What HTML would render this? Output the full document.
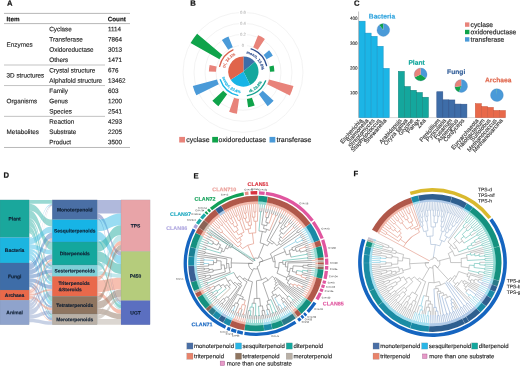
<!DOCTYPE html>
<html><head><meta charset="utf-8"><title>Figure</title>
<style>
html,body{margin:0;padding:0;background:#fff;}
body{width:520px;height:367px;overflow:hidden;}
svg{display:block;font-family:'Liberation Sans', Arial, sans-serif;text-rendering:geometricPrecision;}
text{paint-order:stroke fill;stroke-linejoin:round;}
</style></head>
<body>
<svg width="520" height="367" viewBox="0 0 520 367">
<rect width="520" height="367" fill="#fff"/>
<g id="panelA">
<text x="6.90" y="5.80" font-size="7.7" fill="#111" stroke="#111" stroke-width="0.2002" font-weight="bold" text-anchor="start" transform="rotate(0.03 6.9 5.8)" >A</text>
<line x1="4" y1="13.4" x2="130" y2="13.4" stroke="#9a9a9a" stroke-width="0.7"/>
<line x1="4" y1="23.6" x2="130" y2="23.6" stroke="#9a9a9a" stroke-width="0.7"/>
<text x="6.60" y="21.20" font-size="6.3" fill="#111" stroke="#111" stroke-width="0.1638" font-weight="bold" text-anchor="start" transform="rotate(0.03 6.6 21.2)" >Item</text>
<text x="107.70" y="21.20" font-size="6.3" fill="#111" stroke="#111" stroke-width="0.1638" font-weight="bold" text-anchor="start" transform="rotate(0.03 107.7 21.2)" >Count</text>
<text x="49.30" y="31.30" font-size="6.33" fill="#222" stroke="#222" stroke-width="0.13926" font-weight="normal" text-anchor="start" transform="rotate(0.03 49.3 31.3)" >Cyclase</text>
<text x="107.90" y="31.30" font-size="6.33" fill="#222" stroke="#222" stroke-width="0.13926" font-weight="normal" text-anchor="start" transform="rotate(0.03 107.9 31.3)" >1114</text>
<text x="49.30" y="41.57" font-size="6.33" fill="#222" stroke="#222" stroke-width="0.13926" font-weight="normal" text-anchor="start" transform="rotate(0.03 49.3 41.6)" >Transferase</text>
<text x="107.90" y="41.57" font-size="6.33" fill="#222" stroke="#222" stroke-width="0.13926" font-weight="normal" text-anchor="start" transform="rotate(0.03 107.9 41.6)" >7864</text>
<text x="49.30" y="51.84" font-size="6.33" fill="#222" stroke="#222" stroke-width="0.13926" font-weight="normal" text-anchor="start" transform="rotate(0.03 49.3 51.8)" >Oxidoreductase</text>
<text x="107.90" y="51.84" font-size="6.33" fill="#222" stroke="#222" stroke-width="0.13926" font-weight="normal" text-anchor="start" transform="rotate(0.03 107.9 51.8)" >3013</text>
<text x="49.30" y="62.11" font-size="6.33" fill="#222" stroke="#222" stroke-width="0.13926" font-weight="normal" text-anchor="start" transform="rotate(0.03 49.3 62.1)" >Others</text>
<text x="107.90" y="62.11" font-size="6.33" fill="#222" stroke="#222" stroke-width="0.13926" font-weight="normal" text-anchor="start" transform="rotate(0.03 107.9 62.1)" >1471</text>
<text x="49.30" y="72.38" font-size="6.33" fill="#222" stroke="#222" stroke-width="0.13926" font-weight="normal" text-anchor="start" transform="rotate(0.03 49.3 72.4)" >Crystal structure</text>
<text x="107.90" y="72.38" font-size="6.33" fill="#222" stroke="#222" stroke-width="0.13926" font-weight="normal" text-anchor="start" transform="rotate(0.03 107.9 72.4)" >676</text>
<text x="49.30" y="82.65" font-size="6.33" fill="#222" stroke="#222" stroke-width="0.13926" font-weight="normal" text-anchor="start" transform="rotate(0.03 49.3 82.6)" >Alphafold structure</text>
<text x="107.90" y="82.65" font-size="6.33" fill="#222" stroke="#222" stroke-width="0.13926" font-weight="normal" text-anchor="start" transform="rotate(0.03 107.9 82.6)" >13462</text>
<text x="49.30" y="92.92" font-size="6.33" fill="#222" stroke="#222" stroke-width="0.13926" font-weight="normal" text-anchor="start" transform="rotate(0.03 49.3 92.9)" >Family</text>
<text x="107.90" y="92.92" font-size="6.33" fill="#222" stroke="#222" stroke-width="0.13926" font-weight="normal" text-anchor="start" transform="rotate(0.03 107.9 92.9)" >603</text>
<text x="49.30" y="103.19" font-size="6.33" fill="#222" stroke="#222" stroke-width="0.13926" font-weight="normal" text-anchor="start" transform="rotate(0.03 49.3 103.2)" >Genus</text>
<text x="107.90" y="103.19" font-size="6.33" fill="#222" stroke="#222" stroke-width="0.13926" font-weight="normal" text-anchor="start" transform="rotate(0.03 107.9 103.2)" >1200</text>
<text x="49.30" y="113.46" font-size="6.33" fill="#222" stroke="#222" stroke-width="0.13926" font-weight="normal" text-anchor="start" transform="rotate(0.03 49.3 113.5)" >Species</text>
<text x="107.90" y="113.46" font-size="6.33" fill="#222" stroke="#222" stroke-width="0.13926" font-weight="normal" text-anchor="start" transform="rotate(0.03 107.9 113.5)" >2541</text>
<text x="49.30" y="123.73" font-size="6.33" fill="#222" stroke="#222" stroke-width="0.13926" font-weight="normal" text-anchor="start" transform="rotate(0.03 49.3 123.7)" >Reaction</text>
<text x="107.90" y="123.73" font-size="6.33" fill="#222" stroke="#222" stroke-width="0.13926" font-weight="normal" text-anchor="start" transform="rotate(0.03 107.9 123.7)" >4293</text>
<text x="49.30" y="134.00" font-size="6.33" fill="#222" stroke="#222" stroke-width="0.13926" font-weight="normal" text-anchor="start" transform="rotate(0.03 49.3 134.0)" >Substrate</text>
<text x="107.90" y="134.00" font-size="6.33" fill="#222" stroke="#222" stroke-width="0.13926" font-weight="normal" text-anchor="start" transform="rotate(0.03 107.9 134.0)" >2205</text>
<text x="49.30" y="144.27" font-size="6.33" fill="#222" stroke="#222" stroke-width="0.13926" font-weight="normal" text-anchor="start" transform="rotate(0.03 49.3 144.3)" >Product</text>
<text x="107.90" y="144.27" font-size="6.33" fill="#222" stroke="#222" stroke-width="0.13926" font-weight="normal" text-anchor="start" transform="rotate(0.03 107.9 144.3)" >3500</text>
<text x="6.60" y="46.70" font-size="6.33" fill="#222" stroke="#222" stroke-width="0.13926" font-weight="normal" text-anchor="start" transform="rotate(0.03 6.6 46.7)" >Enzymes</text>
<text x="6.60" y="77.52" font-size="6.33" fill="#222" stroke="#222" stroke-width="0.13926" font-weight="normal" text-anchor="start" transform="rotate(0.03 6.6 77.5)" >3D structures</text>
<text x="6.60" y="103.19" font-size="6.33" fill="#222" stroke="#222" stroke-width="0.13926" font-weight="normal" text-anchor="start" transform="rotate(0.03 6.6 103.2)" >Organisms</text>
<text x="6.60" y="134.00" font-size="6.33" fill="#222" stroke="#222" stroke-width="0.13926" font-weight="normal" text-anchor="start" transform="rotate(0.03 6.6 134.0)" >Metabolites</text>
<line x1="4" y1="65.01" x2="105" y2="65.01" stroke="#9a9a9a" stroke-width="0.6"/>
<line x1="4" y1="85.55" x2="105" y2="85.55" stroke="#9a9a9a" stroke-width="0.6"/>
<line x1="4" y1="116.36" x2="105" y2="116.36" stroke="#9a9a9a" stroke-width="0.6"/>
<line x1="4" y1="147.47" x2="130" y2="147.47" stroke="#9a9a9a" stroke-width="0.7"/>
</g>
<g id="panelB">
<text x="190.30" y="5.70" font-size="7.7" fill="#111" stroke="#111" stroke-width="0.2002" font-weight="bold" text-anchor="start" transform="rotate(0.03 190.3 5.7)" >B</text>
<circle cx="243.0" cy="72.3" r="27" fill="none" stroke="#ebebeb" stroke-width="0.6"/>
<circle cx="243.0" cy="72.3" r="38" fill="none" stroke="#ebebeb" stroke-width="0.6"/>
<circle cx="243.0" cy="72.3" r="49" fill="none" stroke="#ebebeb" stroke-width="0.6"/>
<circle cx="243.0" cy="72.3" r="60" fill="none" stroke="#ebebeb" stroke-width="0.6"/>
<rect x="239.0" y="43.099999999999994" width="8" height="4.4" fill="#fff"/>
<text x="243.00" y="46.80" font-size="4.2" fill="#b8b8b8" stroke="#b8b8b8" stroke-width="0.0924" font-weight="normal" text-anchor="middle" transform="rotate(0.03 243.0 46.8)" >0</text>
<rect x="239.0" y="32.099999999999994" width="8" height="4.4" fill="#fff"/>
<text x="243.00" y="35.80" font-size="4.2" fill="#b8b8b8" stroke="#b8b8b8" stroke-width="0.0924" font-weight="normal" text-anchor="middle" transform="rotate(0.03 243.0 35.8)" >0.2</text>
<rect x="239.0" y="21.099999999999998" width="8" height="4.4" fill="#fff"/>
<text x="243.00" y="24.80" font-size="4.2" fill="#b8b8b8" stroke="#b8b8b8" stroke-width="0.0924" font-weight="normal" text-anchor="middle" transform="rotate(0.03 243.0 24.8)" >0.4</text>
<rect x="239.0" y="10.099999999999998" width="8" height="4.4" fill="#fff"/>
<text x="243.00" y="13.80" font-size="4.2" fill="#b8b8b8" stroke="#b8b8b8" stroke-width="0.0924" font-weight="normal" text-anchor="middle" transform="rotate(0.03 243.0 13.8)" >0.6</text>
<path d="M258.08,35.33A39.92,39.92 0 0 1 264.86,38.89L257.78,49.71A27.00,27.00 0 0 0 253.20,47.30Z" fill="#e8837a" />
<path d="M269.12,50.30A34.15,34.15 0 0 1 272.83,55.68L266.59,59.16A27.00,27.00 0 0 0 263.65,54.90Z" fill="#4a9ad8" />
<path d="M273.66,65.54A31.40,31.40 0 0 1 274.39,71.52L269.99,71.63A27.00,27.00 0 0 0 269.37,66.49Z" fill="#0fa34a" />
<path d="M293.45,86.07A52.30,52.30 0 0 1 289.90,95.45L267.21,84.25A27.00,27.00 0 0 0 269.05,79.41Z" fill="#e8837a" />
<path d="M273.63,100.82A41.85,41.85 0 0 1 267.62,106.14L258.88,94.13A27.00,27.00 0 0 0 262.76,90.70Z" fill="#4a9ad8" />
<path d="M254.68,105.56A35.25,35.25 0 0 1 248.12,107.18L246.92,99.01A27.00,27.00 0 0 0 251.94,97.78Z" fill="#0fa34a" />
<path d="M236.93,113.71A41.85,41.85 0 0 1 229.14,111.79L234.06,97.78A27.00,27.00 0 0 0 239.08,99.01Z" fill="#e8837a" />
<path d="M218.38,106.14A41.85,41.85 0 0 1 212.37,100.82L223.24,90.70A27.00,27.00 0 0 0 227.12,94.13Z" fill="#0fa34a" />
<path d="M196.35,95.33A52.03,52.03 0 0 1 192.81,86.00L216.95,79.41A27.00,27.00 0 0 0 218.79,84.25Z" fill="#4a9ad8" />
<path d="M208.86,71.45A34.15,34.15 0 0 1 209.65,64.95L216.63,66.49A27.00,27.00 0 0 0 216.01,71.63Z" fill="#e8837a" />
<path d="M190.58,43.11A60.00,60.00 0 0 1 197.12,33.64L222.35,54.90A27.00,27.00 0 0 0 219.41,59.16Z" fill="#0fa34a" />
<path d="M221.90,40.04A38.55,38.55 0 0 1 228.44,36.61L232.80,47.30A27.00,27.00 0 0 0 228.22,49.71Z" fill="#4a9ad8" />
<path d="M251.08,48.92A24.20,24.20 0 0 1 266.58,65.54" fill="none" stroke="#2f4f8f" stroke-width="1.35" stroke-linecap="round"/>
<path id="bg0" d="M246.71,53.74A18.40,18.40 0 0 1 261.46,69.56" fill="none"/>
<text font-size="3.9" font-weight="bold" fill="#2f4f8f" stroke="#2f4f8f" stroke-width="0.12" text-anchor="middle"><textPath href="#bg0" startOffset="50%">mono, 13.8%</textPath></text>
<path d="M265.64,80.87A24.20,24.20 0 0 1 247.40,95.63" fill="none" stroke="#14a08f" stroke-width="1.35" stroke-linecap="round"/>
<path id="bg1" d="M243.95,93.39A21.60,21.60 0 0 0 264.16,77.03" fill="none"/>
<text font-size="3.9" font-weight="bold" fill="#14a08f" stroke="#14a08f" stroke-width="0.12" text-anchor="middle"><textPath href="#bg1" startOffset="50%">di, 28.8%</textPath></text>
<path d="M237.76,95.38A24.20,24.20 0 0 1 220.32,79.68" fill="none" stroke="#17b4e6" stroke-width="1.35" stroke-linecap="round"/>
<path id="bg2" d="M222.00,75.92A21.60,21.60 0 0 0 241.32,93.32" fill="none"/>
<text font-size="3.9" font-weight="bold" fill="#17b4e6" stroke="#17b4e6" stroke-width="0.12" text-anchor="middle"><textPath href="#bg2" startOffset="50%">sesqui, 23.4%</textPath></text>
<path d="M219.62,66.36A24.20,24.20 0 0 1 232.97,49.87" fill="none" stroke="#d9634f" stroke-width="1.35" stroke-linecap="round"/>
<path id="bg3" d="M224.87,70.20A18.40,18.40 0 0 1 237.82,54.20" fill="none"/>
<text font-size="3.9" font-weight="bold" fill="#d9634f" stroke="#d9634f" stroke-width="0.12" text-anchor="middle"><textPath href="#bg3" startOffset="50%">tri, 34.1%</textPath></text>
<path d="M243.40,71.50L243.40,56.40A15.10,15.10 0 0 1 254.90,61.72Z" fill="#3e6da8" />
<path d="M243.40,71.50L254.90,61.72A15.10,15.10 0 0 1 250.21,84.98Z" fill="#14a79d" />
<path d="M243.40,71.50L250.21,84.98A15.10,15.10 0 0 1 230.68,79.64Z" fill="#17b4e6" />
<path d="M243.40,71.50L230.68,79.64A15.10,15.10 0 0 1 243.40,56.40Z" fill="#e0644b" />
<rect x="179.2" y="136.9" width="5.8" height="5.6" fill="#e8837a"/>
<text x="186.30" y="142.00" font-size="7.0" fill="#222" stroke="#222" stroke-width="0.154" font-weight="normal" text-anchor="start" transform="rotate(0.03 186.3 142.0)" >cyclase</text>
<rect x="212.2" y="136.9" width="5.8" height="5.6" fill="#0fa34a"/>
<text x="218.60" y="142.00" font-size="7.0" fill="#222" stroke="#222" stroke-width="0.154" font-weight="normal" text-anchor="start" transform="rotate(0.03 218.6 142.0)" >oxidoreductase</text>
<rect x="269.5" y="136.9" width="5.8" height="5.6" fill="#4a9ad8"/>
<text x="276.50" y="142.00" font-size="7.0" fill="#222" stroke="#222" stroke-width="0.154" font-weight="normal" text-anchor="start" transform="rotate(0.03 276.5 142.0)" >transferase</text>
</g>
<g id="panelC">
<text x="353.90" y="5.80" font-size="7.7" fill="#111" stroke="#111" stroke-width="0.2002" font-weight="bold" text-anchor="start" transform="rotate(0.03 353.9 5.8)" >C</text>
<line x1="358.6" y1="117.89999999999999" x2="358.6" y2="11.5" stroke="#777" stroke-width="0.45"/>
<line x1="359.3" y1="117.6" x2="506" y2="117.6" stroke="#b4b4b4" stroke-width="0.5"/>
<text x="357.50" y="94.35" font-size="4.5" fill="#222" stroke="#222" stroke-width="0.09899999999999999" font-weight="normal" text-anchor="end" transform="rotate(0.03 357.5 94.3)" >100</text>
<text x="357.50" y="69.50" font-size="4.5" fill="#222" stroke="#222" stroke-width="0.09899999999999999" font-weight="normal" text-anchor="end" transform="rotate(0.03 357.5 69.5)" >200</text>
<text x="357.50" y="44.65" font-size="4.5" fill="#222" stroke="#222" stroke-width="0.09899999999999999" font-weight="normal" text-anchor="end" transform="rotate(0.03 357.5 44.6)" >300</text>
<text x="357.50" y="19.80" font-size="4.5" fill="#222" stroke="#222" stroke-width="0.09899999999999999" font-weight="normal" text-anchor="end" transform="rotate(0.03 357.5 19.8)" >400</text>
<rect x="359.10" y="21.18" width="6.02" height="96.42" fill="#1cb5e6" stroke="#1592c4" stroke-width="0.5"/>
<rect x="365.12" y="33.11" width="6.02" height="84.49" fill="#1cb5e6" stroke="#1592c4" stroke-width="0.5"/>
<rect x="371.14" y="36.34" width="6.02" height="81.26" fill="#1cb5e6" stroke="#1592c4" stroke-width="0.5"/>
<rect x="377.16" y="46.28" width="6.02" height="71.32" fill="#1cb5e6" stroke="#1592c4" stroke-width="0.5"/>
<rect x="383.18" y="68.40" width="6.02" height="49.20" fill="#1cb5e6" stroke="#1592c4" stroke-width="0.5"/>
<text transform="translate(361.61,119.80) rotate(-49)" font-size="5.95" fill="#3a3a3a" stroke="#3a3a3a" stroke-width="0.15" text-anchor="end" dominant-baseline="middle">Escherichia</text>
<text transform="translate(367.63,119.80) rotate(-49)" font-size="5.95" fill="#3a3a3a" stroke="#3a3a3a" stroke-width="0.15" text-anchor="end" dominant-baseline="middle">Salmonella</text>
<text transform="translate(373.65,119.80) rotate(-49)" font-size="5.95" fill="#3a3a3a" stroke="#3a3a3a" stroke-width="0.15" text-anchor="end" dominant-baseline="middle">Streptomyces</text>
<text transform="translate(379.67,119.80) rotate(-49)" font-size="5.95" fill="#3a3a3a" stroke="#3a3a3a" stroke-width="0.15" text-anchor="end" dominant-baseline="middle">Staphylococcus</text>
<text transform="translate(385.69,119.80) rotate(-49)" font-size="5.95" fill="#3a3a3a" stroke="#3a3a3a" stroke-width="0.15" text-anchor="end" dominant-baseline="middle">Shewanella</text>
<text x="382.00" y="18.40" font-size="6.7" fill="#33a5de" stroke="#33a5de" stroke-width="0.1742" font-weight="bold" text-anchor="middle" transform="rotate(0.03 382.0 18.4)" >Bacteria</text>
<path d="M383.30,30.00L379.19,25.10A6.40,6.40 0 0 1 383.30,23.60Z" fill="#0fa34a" />
<path d="M383.30,30.00L383.30,23.60A6.40,6.40 0 1 1 379.19,25.10Z" fill="#4a9ad8" />
<circle cx="383.3" cy="30" r="6.4" fill="none" stroke="#3a78b8" stroke-opacity="0.6" stroke-width="0.4"/>
<rect x="398.30" y="71.38" width="6.02" height="46.22" fill="#14a79d" stroke="#0f8078" stroke-width="0.5"/>
<rect x="404.32" y="86.54" width="6.02" height="31.06" fill="#14a79d" stroke="#0f8078" stroke-width="0.5"/>
<rect x="410.34" y="90.26" width="6.02" height="27.34" fill="#14a79d" stroke="#0f8078" stroke-width="0.5"/>
<rect x="416.36" y="92.50" width="6.02" height="25.10" fill="#14a79d" stroke="#0f8078" stroke-width="0.5"/>
<rect x="422.38" y="97.22" width="6.02" height="20.38" fill="#14a79d" stroke="#0f8078" stroke-width="0.5"/>
<text transform="translate(400.81,119.80) rotate(-49)" font-size="5.95" fill="#3a3a3a" stroke="#3a3a3a" stroke-width="0.15" text-anchor="end" dominant-baseline="middle">Arabidopsis</text>
<text transform="translate(406.83,119.80) rotate(-49)" font-size="5.95" fill="#3a3a3a" stroke="#3a3a3a" stroke-width="0.15" text-anchor="end" dominant-baseline="middle">Oryza sativa</text>
<text transform="translate(412.85,119.80) rotate(-49)" font-size="5.95" fill="#3a3a3a" stroke="#3a3a3a" stroke-width="0.15" text-anchor="end" dominant-baseline="middle">Glycine</text>
<text transform="translate(418.87,119.80) rotate(-49)" font-size="5.95" fill="#3a3a3a" stroke="#3a3a3a" stroke-width="0.15" text-anchor="end" dominant-baseline="middle">Panax</text>
<text transform="translate(424.89,119.80) rotate(-49)" font-size="5.95" fill="#3a3a3a" stroke="#3a3a3a" stroke-width="0.15" text-anchor="end" dominant-baseline="middle">Zea</text>
<text x="416.60" y="64.70" font-size="6.7" fill="#14a79d" stroke="#14a79d" stroke-width="0.1742" font-weight="bold" text-anchor="middle" transform="rotate(0.03 416.6 64.7)" >Plant</text>
<path d="M420.60,74.50L420.60,68.10A6.40,6.40 0 0 1 425.84,78.17Z" fill="#4a9ad8" />
<path d="M420.60,74.50L425.84,78.17A6.40,6.40 0 0 1 414.80,77.20Z" fill="#0fa34a" />
<path d="M420.60,74.50L414.80,77.20A6.40,6.40 0 0 1 420.60,68.10Z" fill="#e8837a" />
<circle cx="420.6" cy="74.5" r="6.4" fill="none" stroke="#3a78b8" stroke-opacity="0.6" stroke-width="0.4"/>
<rect x="436.80" y="91.76" width="6.02" height="25.84" fill="#3e6da8" stroke="#2c5088" stroke-width="0.5"/>
<rect x="442.82" y="99.83" width="6.02" height="17.77" fill="#3e6da8" stroke="#2c5088" stroke-width="0.5"/>
<rect x="448.84" y="99.96" width="6.02" height="17.64" fill="#3e6da8" stroke="#2c5088" stroke-width="0.5"/>
<rect x="454.86" y="104.06" width="6.02" height="13.54" fill="#3e6da8" stroke="#2c5088" stroke-width="0.5"/>
<rect x="460.88" y="104.18" width="6.02" height="13.42" fill="#3e6da8" stroke="#2c5088" stroke-width="0.5"/>
<text transform="translate(439.31,119.80) rotate(-49)" font-size="5.95" fill="#3a3a3a" stroke="#3a3a3a" stroke-width="0.15" text-anchor="end" dominant-baseline="middle">Penicillium</text>
<text transform="translate(445.33,119.80) rotate(-49)" font-size="5.95" fill="#3a3a3a" stroke="#3a3a3a" stroke-width="0.15" text-anchor="end" dominant-baseline="middle">Pyricularia</text>
<text transform="translate(451.35,119.80) rotate(-49)" font-size="5.95" fill="#3a3a3a" stroke="#3a3a3a" stroke-width="0.15" text-anchor="end" dominant-baseline="middle">Fusarium</text>
<text transform="translate(457.37,119.80) rotate(-49)" font-size="5.95" fill="#3a3a3a" stroke="#3a3a3a" stroke-width="0.15" text-anchor="end" dominant-baseline="middle">Aspergillus</text>
<text transform="translate(463.39,119.80) rotate(-49)" font-size="5.95" fill="#3a3a3a" stroke="#3a3a3a" stroke-width="0.15" text-anchor="end" dominant-baseline="middle">Cordyceps</text>
<text x="456.20" y="74.00" font-size="6.7" fill="#35609a" stroke="#35609a" stroke-width="0.1742" font-weight="bold" text-anchor="middle" transform="rotate(0.03 456.2 74.0)" >Fungi</text>
<path d="M461.20,86.00L461.20,79.60A6.40,6.40 0 1 1 459.01,92.01Z" fill="#4a9ad8" />
<path d="M461.20,86.00L459.01,92.01A6.40,6.40 0 0 1 454.86,86.89Z" fill="#0fa34a" />
<path d="M461.20,86.00L454.86,86.89A6.40,6.40 0 0 1 461.20,79.60Z" fill="#e8837a" />
<circle cx="461.2" cy="86" r="6.4" fill="none" stroke="#3a78b8" stroke-opacity="0.6" stroke-width="0.4"/>
<rect x="475.30" y="103.68" width="6.02" height="13.92" fill="#e8694a" stroke="#c8553a" stroke-width="0.5"/>
<rect x="481.32" y="106.54" width="6.02" height="11.06" fill="#e8694a" stroke="#c8553a" stroke-width="0.5"/>
<rect x="487.34" y="107.41" width="6.02" height="10.19" fill="#e8694a" stroke="#c8553a" stroke-width="0.5"/>
<rect x="493.36" y="110.44" width="6.02" height="7.16" fill="#e8694a" stroke="#c8553a" stroke-width="0.5"/>
<rect x="499.38" y="110.52" width="6.02" height="7.08" fill="#e8694a" stroke="#c8553a" stroke-width="0.5"/>
<text transform="translate(477.81,119.80) rotate(-49)" font-size="5.95" fill="#3a3a3a" stroke="#3a3a3a" stroke-width="0.15" text-anchor="end" dominant-baseline="middle">Euryarchaeota</text>
<text transform="translate(483.83,119.80) rotate(-49)" font-size="5.95" fill="#3a3a3a" stroke="#3a3a3a" stroke-width="0.15" text-anchor="end" dominant-baseline="middle">Halobacterium</text>
<text transform="translate(489.85,119.80) rotate(-49)" font-size="5.95" fill="#3a3a3a" stroke="#3a3a3a" stroke-width="0.15" text-anchor="end" dominant-baseline="middle">Sulfolobus</text>
<text transform="translate(495.87,119.80) rotate(-49)" font-size="5.95" fill="#3a3a3a" stroke="#3a3a3a" stroke-width="0.15" text-anchor="end" dominant-baseline="middle">Methanococcus</text>
<text transform="translate(501.89,119.80) rotate(-49)" font-size="5.95" fill="#3a3a3a" stroke="#3a3a3a" stroke-width="0.15" text-anchor="end" dominant-baseline="middle">Methanosarcina</text>
<text x="498.20" y="82.20" font-size="6.7" fill="#e0694f" stroke="#e0694f" stroke-width="0.1742" font-weight="bold" text-anchor="middle" transform="rotate(0.03 498.2 82.2)" >Archaea</text>
<path d="M496.90,95.10L496.90,88.70A6.40,6.40 0 1 1 496.57,88.71Z" fill="#4a9ad8" />
<path d="M496.90,95.10L496.57,88.71A6.40,6.40 0 0 1 496.90,88.70Z" fill="#0fa34a" />
<circle cx="496.9" cy="95.1" r="6.4" fill="none" stroke="#3a78b8" stroke-opacity="0.6" stroke-width="0.4"/>
<rect x="465" y="22.400000000000002" width="4.4" height="4.4" fill="#e8837a"/>
<text x="470.60" y="26.90" font-size="6.75" fill="#222" stroke="#222" stroke-width="0.1485" font-weight="normal" text-anchor="start" transform="rotate(0.03 470.6 26.9)" >cyclase</text>
<rect x="465" y="29.8" width="4.4" height="4.4" fill="#0fa34a"/>
<text x="470.60" y="34.30" font-size="6.75" fill="#222" stroke="#222" stroke-width="0.1485" font-weight="normal" text-anchor="start" transform="rotate(0.03 470.6 34.3)" >oxidoreductase</text>
<rect x="465" y="37.2" width="4.4" height="4.4" fill="#4a9ad8"/>
<text x="470.60" y="41.70" font-size="6.75" fill="#222" stroke="#222" stroke-width="0.1485" font-weight="normal" text-anchor="start" transform="rotate(0.03 470.6 41.7)" >transferase</text>
</g>
<g id="panelD">
<text x="3.40" y="177.70" font-size="7.7" fill="#111" stroke="#111" stroke-width="0.2002" font-weight="bold" text-anchor="start" transform="rotate(0.03 3.4 177.7)" >D</text>
<path d="M29.2,199.90C40.7,199.90 40.7,199.90 52.2,199.90L52.2,203.64C40.7,203.64 40.7,203.64 29.2,203.64Z" fill="#35b3a8" fill-opacity="0.5"/>
<path d="M29.2,203.64C40.7,203.64 40.7,219.60 52.2,219.60L52.2,226.48C40.7,226.48 40.7,210.52 29.2,210.52Z" fill="#35b3a8" fill-opacity="0.5"/>
<path d="M29.2,210.52C40.7,210.52 40.7,242.00 52.2,242.00L52.2,250.01C40.7,250.01 40.7,218.53 29.2,218.53Z" fill="#35b3a8" fill-opacity="0.5"/>
<path d="M29.2,218.53C40.7,218.53 40.7,265.00 52.2,265.00L52.2,267.17C40.7,267.17 40.7,220.70 29.2,220.70Z" fill="#35b3a8" fill-opacity="0.5"/>
<path d="M29.2,220.70C40.7,220.70 40.7,276.40 52.2,276.40L52.2,282.00C40.7,282.00 40.7,226.30 29.2,226.30Z" fill="#35b3a8" fill-opacity="0.5"/>
<path d="M29.2,226.30C40.7,226.30 40.7,296.20 52.2,296.20L52.2,301.42C40.7,301.42 40.7,231.52 29.2,231.52Z" fill="#35b3a8" fill-opacity="0.5"/>
<path d="M29.2,231.52C40.7,231.52 40.7,314.00 52.2,314.00L52.2,315.82C40.7,315.82 40.7,233.35 29.2,233.35Z" fill="#35b3a8" fill-opacity="0.5"/>
<path d="M29.2,237.40C40.7,237.40 40.7,203.64 52.2,203.64L52.2,204.53C40.7,204.53 40.7,238.29 29.2,238.29Z" fill="#45bfe8" fill-opacity="0.5"/>
<path d="M29.2,238.29C40.7,238.29 40.7,226.48 52.2,226.48L52.2,232.42C40.7,232.42 40.7,244.23 29.2,244.23Z" fill="#45bfe8" fill-opacity="0.5"/>
<path d="M29.2,244.23C40.7,244.23 40.7,250.01 52.2,250.01L52.2,254.45C40.7,254.45 40.7,248.67 29.2,248.67Z" fill="#45bfe8" fill-opacity="0.5"/>
<path d="M29.2,248.67C40.7,248.67 40.7,267.17 52.2,267.17L52.2,269.57C40.7,269.57 40.7,251.07 29.2,251.07Z" fill="#45bfe8" fill-opacity="0.5"/>
<path d="M29.2,251.07C40.7,251.07 40.7,282.00 52.2,282.00L52.2,284.98C40.7,284.98 40.7,254.05 29.2,254.05Z" fill="#45bfe8" fill-opacity="0.5"/>
<path d="M29.2,254.05C40.7,254.05 40.7,301.42 52.2,301.42L52.2,305.59C40.7,305.59 40.7,258.21 29.2,258.21Z" fill="#45bfe8" fill-opacity="0.5"/>
<path d="M29.2,258.21C40.7,258.21 40.7,315.82 52.2,315.82L52.2,317.84C40.7,317.84 40.7,260.23 29.2,260.23Z" fill="#45bfe8" fill-opacity="0.5"/>
<path d="M29.2,263.00C40.7,263.00 40.7,204.53 52.2,204.53L52.2,205.30C40.7,205.30 40.7,263.77 29.2,263.77Z" fill="#4f7fbf" fill-opacity="0.5"/>
<path d="M29.2,263.77C40.7,263.77 40.7,232.42 52.2,232.42L52.2,238.36C40.7,238.36 40.7,269.71 29.2,269.71Z" fill="#4f7fbf" fill-opacity="0.5"/>
<path d="M29.2,269.71C40.7,269.71 40.7,254.45 52.2,254.45L52.2,259.26C40.7,259.26 40.7,274.52 29.2,274.52Z" fill="#4f7fbf" fill-opacity="0.5"/>
<path d="M29.2,274.52C40.7,274.52 40.7,269.57 52.2,269.57L52.2,273.21C40.7,273.21 40.7,278.16 29.2,278.16Z" fill="#4f7fbf" fill-opacity="0.5"/>
<path d="M29.2,278.16C40.7,278.16 40.7,284.98 52.2,284.98L52.2,289.02C40.7,289.02 40.7,282.20 29.2,282.20Z" fill="#4f7fbf" fill-opacity="0.5"/>
<path d="M29.2,282.20C40.7,282.20 40.7,305.59 52.2,305.59L52.2,307.85C40.7,307.85 40.7,284.45 29.2,284.45Z" fill="#4f7fbf" fill-opacity="0.5"/>
<path d="M29.2,284.45C40.7,284.45 40.7,317.84 52.2,317.84L52.2,320.47C40.7,320.47 40.7,287.08 29.2,287.08Z" fill="#4f7fbf" fill-opacity="0.5"/>
<path d="M29.2,290.00C40.7,290.00 40.7,205.30 52.2,205.30L52.2,205.53C40.7,205.53 40.7,290.24 29.2,290.24Z" fill="#ee8a70" fill-opacity="0.5"/>
<path d="M29.2,290.24C40.7,290.24 40.7,238.36 52.2,238.36L52.2,239.58C40.7,239.58 40.7,291.46 29.2,291.46Z" fill="#ee8a70" fill-opacity="0.5"/>
<path d="M29.2,291.46C40.7,291.46 40.7,259.26 52.2,259.26L52.2,261.23C40.7,261.23 40.7,293.43 29.2,293.43Z" fill="#ee8a70" fill-opacity="0.5"/>
<path d="M29.2,293.43C40.7,293.43 40.7,273.21 52.2,273.21L52.2,273.85C40.7,273.85 40.7,294.07 29.2,294.07Z" fill="#ee8a70" fill-opacity="0.5"/>
<path d="M29.2,294.07C40.7,294.07 40.7,289.02 52.2,289.02L52.2,290.67C40.7,290.67 40.7,295.73 29.2,295.73Z" fill="#ee8a70" fill-opacity="0.5"/>
<path d="M29.2,295.73C40.7,295.73 40.7,307.85 52.2,307.85L52.2,310.32C40.7,310.32 40.7,298.20 29.2,298.20Z" fill="#ee8a70" fill-opacity="0.5"/>
<path d="M29.2,298.20C40.7,298.20 40.7,320.47 52.2,320.47L52.2,321.37C40.7,321.37 40.7,299.10 29.2,299.10Z" fill="#ee8a70" fill-opacity="0.5"/>
<path d="M29.2,300.20C40.7,300.20 40.7,205.53 52.2,205.53L52.2,206.10C40.7,206.10 40.7,300.77 29.2,300.77Z" fill="#8fa3cc" fill-opacity="0.5"/>
<path d="M29.2,300.77C40.7,300.77 40.7,239.58 52.2,239.58L52.2,242.00C40.7,242.00 40.7,303.19 29.2,303.19Z" fill="#8fa3cc" fill-opacity="0.5"/>
<path d="M29.2,303.19C40.7,303.19 40.7,261.23 52.2,261.23L52.2,265.00C40.7,265.00 40.7,306.95 29.2,306.95Z" fill="#8fa3cc" fill-opacity="0.5"/>
<path d="M29.2,306.95C40.7,306.95 40.7,273.85 52.2,273.85L52.2,276.40C40.7,276.40 40.7,309.50 29.2,309.50Z" fill="#8fa3cc" fill-opacity="0.5"/>
<path d="M29.2,309.50C40.7,309.50 40.7,290.67 52.2,290.67L52.2,296.20C40.7,296.20 40.7,315.03 29.2,315.03Z" fill="#8fa3cc" fill-opacity="0.5"/>
<path d="M29.2,315.03C40.7,315.03 40.7,310.32 52.2,310.32L52.2,314.00C40.7,314.00 40.7,318.71 29.2,318.71Z" fill="#8fa3cc" fill-opacity="0.5"/>
<path d="M29.2,318.71C40.7,318.71 40.7,321.37 52.2,321.37L52.2,324.80C40.7,324.80 40.7,322.14 29.2,322.14Z" fill="#8fa3cc" fill-opacity="0.5"/>
<path d="M97.3,199.90C109.15,199.90 109.15,199.90 121.0,199.90L121.0,213.51C109.15,213.51 109.15,213.51 97.3,213.51Z" fill="#6f80bf" fill-opacity="0.55"/>
<path d="M97.3,213.51C109.15,213.51 109.15,251.40 121.0,251.40L121.0,255.60C109.15,255.60 109.15,217.71 97.3,217.71Z" fill="#6f80bf" fill-opacity="0.55"/>
<path d="M97.3,217.71C109.15,217.71 109.15,300.60 121.0,300.60L121.0,302.49C109.15,302.49 109.15,219.60 97.3,219.60Z" fill="#6f80bf" fill-opacity="0.55"/>
<path d="M97.3,219.60C109.15,219.60 109.15,213.51 121.0,213.51L121.0,225.31C109.15,225.31 109.15,231.40 97.3,231.40Z" fill="#45bfe8" fill-opacity="0.55"/>
<path d="M97.3,231.40C109.15,231.40 109.15,255.60 121.0,255.60L121.0,263.95C109.15,263.95 109.15,239.75 97.3,239.75Z" fill="#45bfe8" fill-opacity="0.55"/>
<path d="M97.3,239.75C109.15,239.75 109.15,302.49 121.0,302.49L121.0,304.74C109.15,304.74 109.15,242.00 97.3,242.00Z" fill="#45bfe8" fill-opacity="0.55"/>
<path d="M97.3,242.00C109.15,242.00 109.15,225.31 121.0,225.31L121.0,234.92C109.15,234.92 109.15,251.61 97.3,251.61Z" fill="#35b3a8" fill-opacity="0.55"/>
<path d="M97.3,251.61C109.15,251.61 109.15,263.95 121.0,263.95L121.0,273.93C109.15,273.93 109.15,261.58 97.3,261.58Z" fill="#35b3a8" fill-opacity="0.55"/>
<path d="M97.3,261.58C109.15,261.58 109.15,304.74 121.0,304.74L121.0,308.15C109.15,308.15 109.15,265.00 97.3,265.00Z" fill="#35b3a8" fill-opacity="0.55"/>
<path d="M97.3,265.00C109.15,265.00 109.15,234.92 121.0,234.92L121.0,241.09C109.15,241.09 109.15,271.17 97.3,271.17Z" fill="#8fd6dc" fill-opacity="0.55"/>
<path d="M97.3,271.17C109.15,271.17 109.15,273.93 121.0,273.93L121.0,277.65C109.15,277.65 109.15,274.89 97.3,274.89Z" fill="#8fd6dc" fill-opacity="0.55"/>
<path d="M97.3,274.89C109.15,274.89 109.15,308.15 121.0,308.15L121.0,309.66C109.15,309.66 109.15,276.40 97.3,276.40Z" fill="#8fd6dc" fill-opacity="0.55"/>
<path d="M97.3,276.40C109.15,276.40 109.15,241.09 121.0,241.09L121.0,245.02C109.15,245.02 109.15,280.33 97.3,280.33Z" fill="#ee8a70" fill-opacity="0.55"/>
<path d="M97.3,280.33C109.15,280.33 109.15,277.65 121.0,277.65L121.0,289.53C109.15,289.53 109.15,292.20 97.3,292.20Z" fill="#ee8a70" fill-opacity="0.55"/>
<path d="M97.3,292.20C109.15,292.20 109.15,309.66 121.0,309.66L121.0,313.66C109.15,313.66 109.15,296.20 97.3,296.20Z" fill="#ee8a70" fill-opacity="0.55"/>
<path d="M97.3,296.20C109.15,296.20 109.15,245.02 121.0,245.02L121.0,250.13C109.15,250.13 109.15,301.31 97.3,301.31Z" fill="#9a8270" fill-opacity="0.55"/>
<path d="M97.3,301.31C109.15,301.31 109.15,289.53 121.0,289.53L121.0,296.76C109.15,296.76 109.15,308.54 97.3,308.54Z" fill="#9a8270" fill-opacity="0.55"/>
<path d="M97.3,308.54C109.15,308.54 109.15,313.66 121.0,313.66L121.0,319.11C109.15,319.11 109.15,314.00 97.3,314.00Z" fill="#9a8270" fill-opacity="0.55"/>
<path d="M97.3,314.00C109.15,314.00 109.15,250.13 121.0,250.13L121.0,251.40C109.15,251.40 109.15,315.27 97.3,315.27Z" fill="#bdb5ac" fill-opacity="0.55"/>
<path d="M97.3,315.27C109.15,315.27 109.15,296.76 121.0,296.76L121.0,300.60C109.15,300.60 109.15,319.11 97.3,319.11Z" fill="#bdb5ac" fill-opacity="0.55"/>
<path d="M97.3,319.11C109.15,319.11 109.15,319.11 121.0,319.11L121.0,324.80C109.15,324.80 109.15,324.80 97.3,324.80Z" fill="#bdb5ac" fill-opacity="0.55"/>
<rect x="0" y="199.90" width="29.20" height="37.50" fill="#1aa79c" stroke="#6a7a8a" stroke-opacity="0.45" stroke-width="0.3"/>
<text x="14.60" y="220.45" font-size="4.95" fill="#0f1f33" stroke="#0f1f33" stroke-width="0.1287" font-weight="bold" text-anchor="middle" transform="rotate(0.03 14.6 220.5)" >Plant</text>
<rect x="0" y="237.40" width="29.20" height="25.60" fill="#1cb5e0" stroke="#6a7a8a" stroke-opacity="0.45" stroke-width="0.3"/>
<text x="14.60" y="252.00" font-size="4.95" fill="#0f1f33" stroke="#0f1f33" stroke-width="0.1287" font-weight="bold" text-anchor="middle" transform="rotate(0.03 14.6 252.0)" >Bacteria</text>
<rect x="0" y="263.00" width="29.20" height="27.00" fill="#3e6da8" stroke="#6a7a8a" stroke-opacity="0.45" stroke-width="0.3"/>
<text x="14.60" y="278.30" font-size="4.95" fill="#0f1f33" stroke="#0f1f33" stroke-width="0.1287" font-weight="bold" text-anchor="middle" transform="rotate(0.03 14.6 278.3)" >Fungi</text>
<rect x="0" y="290.00" width="29.20" height="10.20" fill="#e8694a" stroke="#6a7a8a" stroke-opacity="0.45" stroke-width="0.3"/>
<text x="14.60" y="296.90" font-size="4.95" fill="#0f1f33" stroke="#0f1f33" stroke-width="0.1287" font-weight="bold" text-anchor="middle" transform="rotate(0.03 14.6 296.9)" >Archaea</text>
<rect x="0" y="300.20" width="29.20" height="24.60" fill="#8fa3cc" stroke="#6a7a8a" stroke-opacity="0.45" stroke-width="0.3"/>
<text x="14.60" y="314.30" font-size="4.95" fill="#0f1f33" stroke="#0f1f33" stroke-width="0.1287" font-weight="bold" text-anchor="middle" transform="rotate(0.03 14.6 314.3)" >Animal</text>
<rect x="52.2" y="199.90" width="45.10" height="19.70" fill="#4a6fa5" stroke="#6a7a8a" stroke-opacity="0.45" stroke-width="0.3"/>
<text x="74.75" y="211.55" font-size="4.95" fill="#0f1f33" stroke="#0f1f33" stroke-width="0.1287" font-weight="bold" text-anchor="middle" transform="rotate(0.03 74.8 211.6)" >Monoterpenoid</text>
<rect x="52.2" y="219.60" width="45.10" height="22.40" fill="#17b4e6" stroke="#6a7a8a" stroke-opacity="0.45" stroke-width="0.3"/>
<text x="74.75" y="232.60" font-size="4.95" fill="#0f1f33" stroke="#0f1f33" stroke-width="0.1287" font-weight="bold" text-anchor="middle" transform="rotate(0.03 74.8 232.6)" >Sesquiterpenoids</text>
<rect x="52.2" y="242.00" width="45.10" height="23.00" fill="#14a79d" stroke="#6a7a8a" stroke-opacity="0.45" stroke-width="0.3"/>
<text x="74.75" y="255.30" font-size="4.95" fill="#0f1f33" stroke="#0f1f33" stroke-width="0.1287" font-weight="bold" text-anchor="middle" transform="rotate(0.03 74.8 255.3)" >Diterpenoids</text>
<rect x="52.2" y="265.00" width="45.10" height="11.40" fill="#7fd0d8" stroke="#6a7a8a" stroke-opacity="0.45" stroke-width="0.3"/>
<text x="74.75" y="272.50" font-size="4.95" fill="#0f1f33" stroke="#0f1f33" stroke-width="0.1287" font-weight="bold" text-anchor="middle" transform="rotate(0.03 74.8 272.5)" >Sesterterpenoids</text>
<rect x="52.2" y="276.40" width="45.10" height="19.80" fill="#e9694b" stroke="#6a7a8a" stroke-opacity="0.45" stroke-width="0.3"/>
<text x="58.40" y="285.10" font-size="4.95" fill="#0f1f33" stroke="#0f1f33" stroke-width="0.1287" font-weight="bold" text-anchor="start" transform="rotate(0.03 58.4 285.1)" >Triterpenoids</text>
<text x="58.40" y="291.30" font-size="4.95" fill="#0f1f33" stroke="#0f1f33" stroke-width="0.1287" font-weight="bold" text-anchor="start" transform="rotate(0.03 58.4 291.3)" >&amp;Steroids</text>
<rect x="52.2" y="296.20" width="45.10" height="17.80" fill="#8f7560" stroke="#6a7a8a" stroke-opacity="0.45" stroke-width="0.3"/>
<text x="74.75" y="306.90" font-size="4.95" fill="#0f1f33" stroke="#0f1f33" stroke-width="0.1287" font-weight="bold" text-anchor="middle" transform="rotate(0.03 74.8 306.9)" >Tetraterpenoids</text>
<rect x="52.2" y="314.00" width="45.10" height="10.80" fill="#b9b0a6" stroke="#6a7a8a" stroke-opacity="0.45" stroke-width="0.3"/>
<text x="74.75" y="321.20" font-size="4.95" fill="#0f1f33" stroke="#0f1f33" stroke-width="0.1287" font-weight="bold" text-anchor="middle" transform="rotate(0.03 74.8 321.2)" >Meroterpenoids</text>
<rect x="121.0" y="199.90" width="29.10" height="51.50" fill="#e8a4a8" stroke="#6a7a8a" stroke-opacity="0.45" stroke-width="0.3"/>
<text x="135.55" y="227.45" font-size="4.95" fill="#0f1f33" stroke="#0f1f33" stroke-width="0.1287" font-weight="bold" text-anchor="middle" transform="rotate(0.03 135.6 227.5)" >TPS</text>
<rect x="121.0" y="251.40" width="29.10" height="49.20" fill="#b5cc7c" stroke="#6a7a8a" stroke-opacity="0.45" stroke-width="0.3"/>
<text x="135.55" y="277.80" font-size="4.95" fill="#0f1f33" stroke="#0f1f33" stroke-width="0.1287" font-weight="bold" text-anchor="middle" transform="rotate(0.03 135.6 277.8)" >P450</text>
<rect x="121.0" y="300.60" width="29.10" height="24.20" fill="#5b6fc0" stroke="#6a7a8a" stroke-opacity="0.45" stroke-width="0.3"/>
<text x="135.55" y="314.50" font-size="4.95" fill="#0f1f33" stroke="#0f1f33" stroke-width="0.1287" font-weight="bold" text-anchor="middle" transform="rotate(0.03 135.6 314.5)" >UGT</text>
</g>
<g id="panelE">
<text x="193.60" y="178.40" font-size="7.7" fill="#111" stroke="#111" stroke-width="0.2002" font-weight="bold" text-anchor="start" transform="rotate(0.03 193.6 178.4)" >E</text>
<path d="M195.65,248.45A62.20,62.20 0 0 1 200.58,235.26L203.07,236.53A59.40,59.40 0 0 0 198.36,249.13Z" fill="#93dad2" />
<path d="M200.58,235.26A62.20,62.20 0 0 1 203.25,230.54L205.63,232.02A59.40,59.40 0 0 0 203.07,236.53Z" fill="#f2b8aa" />
<path d="M203.25,230.54A62.20,62.20 0 0 1 208.35,223.52L210.50,225.32A59.40,59.40 0 0 0 205.63,232.02Z" fill="#d0c0b4" />
<path d="M208.35,223.52A62.20,62.20 0 0 1 218.57,213.82L220.25,216.06A59.40,59.40 0 0 0 210.50,225.32Z" fill="#f2b8aa" />
<path d="M218.57,213.82A62.20,62.20 0 0 1 223.96,210.18L225.41,212.58A59.40,59.40 0 0 0 220.25,216.06Z" fill="#b0cae8" />
<path d="M223.96,210.18A62.20,62.20 0 0 1 258.17,201.34L258.07,204.14A59.40,59.40 0 0 0 225.41,212.58Z" fill="#f2b8aa" />
<path d="M258.17,201.34A62.20,62.20 0 0 1 266.80,202.24L266.31,205.00A59.40,59.40 0 0 0 258.07,204.14Z" fill="#93dad2" />
<path d="M266.80,202.24A62.20,62.20 0 0 1 306.13,226.68L303.87,228.33A59.40,59.40 0 0 0 266.31,205.00Z" fill="#f2b8aa" />
<path d="M306.13,226.68A62.20,62.20 0 0 1 314.45,242.23L311.82,243.18A59.40,59.40 0 0 0 303.87,228.33Z" fill="#a4dff0" />
<path d="M314.45,242.23A62.20,62.20 0 0 1 316.08,247.40L313.38,248.13A59.40,59.40 0 0 0 311.82,243.18Z" fill="#f2b8aa" />
<path d="M316.08,247.40A62.20,62.20 0 0 1 317.96,258.08L315.17,258.32A59.40,59.40 0 0 0 313.38,248.13Z" fill="#93dad2" />
<path d="M317.96,258.08A62.20,62.20 0 0 1 318.11,260.24L315.32,260.39A59.40,59.40 0 0 0 315.17,258.32Z" fill="#f2b8aa" />
<path d="M318.11,260.24A62.20,62.20 0 0 1 318.19,262.41L315.39,262.46A59.40,59.40 0 0 0 315.32,260.39Z" fill="#dcd8d2" />
<path d="M318.19,262.41A62.20,62.20 0 0 1 318.19,264.59L315.39,264.54A59.40,59.40 0 0 0 315.39,262.46Z" fill="#f2b8aa" />
<path d="M318.19,264.59A62.20,62.20 0 0 1 318.11,266.76L315.32,266.61A59.40,59.40 0 0 0 315.39,264.54Z" fill="#dcd8d2" />
<path d="M318.11,266.76A62.20,62.20 0 0 1 317.96,268.92L315.17,268.68A59.40,59.40 0 0 0 315.32,266.61Z" fill="#d0c0b4" />
<path d="M317.96,268.92A62.20,62.20 0 0 1 316.61,277.49L313.88,276.86A59.40,59.40 0 0 0 315.17,268.68Z" fill="#93dad2" />
<path d="M316.61,277.49A62.20,62.20 0 0 1 306.95,299.18L304.66,297.57A59.40,59.40 0 0 0 313.88,276.86Z" fill="#f2b8aa" />
<path d="M306.95,299.18A62.20,62.20 0 0 1 297.62,309.72L295.75,307.64A59.40,59.40 0 0 0 304.66,297.57Z" fill="#93dad2" />
<path d="M297.62,309.72A62.20,62.20 0 0 1 294.29,312.51L292.57,310.31A59.40,59.40 0 0 0 295.75,307.64Z" fill="#f2b8aa" />
<path d="M294.29,312.51A62.20,62.20 0 0 1 292.56,313.82L290.91,311.56A59.40,59.40 0 0 0 292.57,310.31Z" fill="#dcd8d2" />
<path d="M292.56,313.82A62.20,62.20 0 0 1 281.30,320.32L280.16,317.76A59.40,59.40 0 0 0 290.91,311.56Z" fill="#a4dff0" />
<path d="M281.30,320.32A62.20,62.20 0 0 1 271.05,323.85L270.37,321.14A59.40,59.40 0 0 0 280.16,317.76Z" fill="#93dad2" />
<path d="M271.05,323.85A62.20,62.20 0 0 1 263.58,325.24L263.24,322.46A59.40,59.40 0 0 0 270.37,321.14Z" fill="#a4dff0" />
<path d="M263.58,325.24A62.20,62.20 0 0 1 245.20,324.76L245.69,322.00A59.40,59.40 0 0 0 263.24,322.46Z" fill="#93dad2" />
<path d="M245.20,324.76A62.20,62.20 0 0 1 231.70,320.76L232.79,318.18A59.40,59.40 0 0 0 245.69,322.00Z" fill="#f2b8aa" />
<path d="M231.70,320.76A62.20,62.20 0 0 1 225.84,317.90L227.20,315.45A59.40,59.40 0 0 0 232.79,318.18Z" fill="#a4dff0" />
<path d="M225.84,317.90A62.20,62.20 0 0 1 221.22,315.07L222.78,312.74A59.40,59.40 0 0 0 227.20,315.45Z" fill="#b0cae8" />
<path d="M221.22,315.07A62.20,62.20 0 0 1 216.02,311.15L217.82,309.00A59.40,59.40 0 0 0 222.78,312.74Z" fill="#a4dff0" />
<path d="M216.02,311.15A62.20,62.20 0 0 1 212.02,307.48L214.00,305.50A59.40,59.40 0 0 0 217.82,309.00Z" fill="#a4dff0" />
<path d="M212.02,307.48A62.20,62.20 0 0 1 209.78,305.12L211.86,303.25A59.40,59.40 0 0 0 214.00,305.50Z" fill="#d0c0b4" />
<path d="M209.78,305.12A62.20,62.20 0 0 1 202.13,294.60L204.56,293.20A59.40,59.40 0 0 0 211.86,303.25Z" fill="#93dad2" />
<path d="M202.13,294.60A62.20,62.20 0 0 1 200.10,290.77L202.61,289.54A59.40,59.40 0 0 0 204.56,293.20Z" fill="#f2b8aa" />
<path d="M200.10,290.77A62.20,62.20 0 0 1 199.18,288.80L201.74,287.66A59.40,59.40 0 0 0 202.61,289.54Z" fill="#dcd8d2" />
<path d="M199.18,288.80A62.20,62.20 0 0 1 196.21,280.64L198.90,279.87A59.40,59.40 0 0 0 201.74,287.66Z" fill="#93dad2" />
<path d="M196.21,280.64A62.20,62.20 0 0 1 193.84,265.67L196.64,265.57A59.40,59.40 0 0 0 198.90,279.87Z" fill="#a4dff0" />
<path d="M193.84,265.67A62.20,62.20 0 0 1 194.14,257.00L196.93,257.29A59.40,59.40 0 0 0 196.64,265.57Z" fill="#a4dff0" />
<path d="M194.14,257.00A62.20,62.20 0 0 1 195.65,248.45L198.36,249.13A59.40,59.40 0 0 0 196.93,257.29Z" fill="#a4dff0" />
<path d="M205.62,249.83A52.20,52.20 0 0 1 206.22,247.76M201.95,248.83L198.58,247.92M202.61,246.62L199.27,245.56M207.69,243.71A52.20,52.20 0 0 1 208.55,241.74M204.18,242.28L200.94,240.95M205.10,240.16L201.92,238.70M212.25,244.52L208.11,242.72M203.35,244.43L200.06,243.24M220.77,253.16L205.91,248.79M259.70,211.69A51.94,51.94 0 0 1 261.65,211.87M259.99,207.64L260.24,204.15M262.10,207.83L262.48,204.35M264.20,208.10L264.71,204.64M258.94,230.96L260.68,211.77M310.48,250.54L313.88,249.73M306.87,253.31A51.88,51.88 0 0 1 307.20,255.15M310.91,252.50L314.34,251.82M311.27,254.48L314.72,253.92M290.96,257.15L307.04,254.23M307.47,256.99A51.88,51.88 0 0 1 307.67,258.85M311.56,256.48L315.03,256.04M311.77,258.48L315.26,258.16M311.77,268.52L315.26,268.84M307.47,270.01A51.88,51.88 0 0 1 307.20,271.85M311.56,270.52L315.03,270.96M311.27,272.52L314.72,273.08M302.63,270.25A47.12,47.12 0 0 1 302.20,272.75M302.63,270.25L307.34,270.93M310.91,274.50L314.34,275.18M296.76,270.53L302.43,271.50M282.71,260.61L307.58,257.92M293.75,299.45A52.13,52.13 0 0 1 292.53,300.69M296.55,302.12L299.09,304.53M295.24,303.45L297.69,305.95M293.89,304.74L296.25,307.32M288.90,295.90L293.14,300.07M297.82,300.75L300.43,303.07M299.04,299.33L301.73,301.57M300.21,297.88L302.97,300.02M301.33,296.38L304.16,298.44M276.75,311.32A52.13,52.13 0 0 1 275.14,311.98M278.29,314.87L279.68,318.08M276.56,315.59L277.85,318.84M273.51,312.60A52.13,52.13 0 0 1 271.87,313.15M274.82,316.24L275.99,319.54M273.05,316.84L274.11,320.18M271.26,317.38L272.21,320.75M269.71,304.06L272.69,312.88M270.96,299.62L275.95,311.66M262.10,319.17L262.48,322.65M259.94,315.48A52.13,52.13 0 0 1 258.21,315.58M260.24,319.34L260.50,322.83M258.37,319.45L258.52,322.95M258.53,306.24L259.08,315.54M256.47,315.62A52.13,52.13 0 0 1 254.73,315.61M256.50,319.50L256.53,323.00M254.63,319.48L254.55,322.98M251.26,315.41A52.13,52.13 0 0 1 249.53,315.22M250.90,319.27L250.59,322.75M249.05,319.07L248.61,322.54M250.88,310.77A47.55,47.55 0 0 1 248.53,310.46M250.88,310.77L250.39,315.32M247.20,318.80L246.65,322.26M253.47,307.29A43.86,43.86 0 0 1 250.19,306.97M252.77,319.41L252.57,322.90M250.19,306.97L249.70,310.63M255.69,303.30L255.60,315.63M252.21,303.13L251.83,307.16M216.58,297.77A52.24,52.24 0 0 1 215.40,296.37M213.74,300.24L211.09,302.54M212.48,298.74L209.76,300.94M213.21,293.46A52.24,52.24 0 0 1 212.19,291.95M210.13,295.62L207.26,297.63M209.03,294.00L206.10,295.91M217.87,292.23A47.74,47.74 0 0 1 216.42,290.20M211.28,297.20L208.48,299.31M216.42,290.20L212.69,292.71M208.00,292.34L205.00,294.14M221.62,288.03L217.13,291.22M226.26,288.46L215.98,297.08M207.91,283.91A52.24,52.24 0 0 1 207.23,282.22M204.45,285.38L201.23,286.75M203.72,283.57L200.45,284.82M233.78,272.48L207.57,283.07M202.45,279.87L199.10,280.90M203.05,281.73L199.74,282.87" fill="none" stroke="#6cc2b8" stroke-width="0.72"/>
<path d="M205.62,249.83L201.95,248.83M206.22,247.76L202.61,246.62M207.69,243.71L204.18,242.28M208.55,241.74L205.10,240.16M212.25,244.52A47.69,47.69 0 0 1 213.51,241.85M213.51,241.85L206.10,238.08M210.50,237.90L207.19,236.04M211.60,236.05L208.37,234.05M217.10,245.17A43.00,43.00 0 0 1 218.97,241.65M217.10,245.17L212.86,243.18M218.35,249.86A40.04,40.04 0 0 1 220.61,244.77M218.35,249.86L203.35,244.43M220.61,244.77L217.99,243.39M220.77,253.16A36.72,36.72 0 0 1 222.43,248.63M222.43,248.63L219.39,247.28M223.84,251.71A34.25,34.25 0 0 1 227.63,244.30M223.84,251.71L221.53,250.86M227.63,244.30L209.62,232.11M227.59,248.96A31.91,31.91 0 0 1 230.33,244.54M227.59,248.96L225.51,247.89M230.33,244.54L210.96,230.23M230.78,247.87A29.67,29.67 0 0 1 232.88,244.90M230.78,247.87L228.87,246.69M232.88,244.90L212.37,228.40M259.70,211.69L259.99,207.64M261.65,211.87L262.10,207.83M265.54,212.44L266.29,208.45M267.46,212.84L268.36,208.88M265.55,217.25A47.23,47.23 0 0 1 268.16,217.86M268.16,217.86L270.42,209.39M271.26,213.85L272.45,209.97M273.12,214.46L274.46,210.63M265.74,222.27A42.36,42.36 0 0 1 269.21,223.25M265.74,222.27L266.86,217.54M261.74,224.68A39.24,39.24 0 0 1 266.64,225.73M261.74,224.68L264.20,208.10M266.64,225.73L267.48,222.72M274.97,215.15L276.45,211.37M276.78,215.90L278.40,212.18M263.48,228.53A35.76,35.76 0 0 1 269.68,230.46M263.48,228.53L264.21,225.13M258.94,230.96A32.67,32.67 0 0 1 265.71,232.30M265.71,232.30L266.63,229.35M280.32,217.60L282.22,214.02M282.04,218.56L284.07,215.04M278.90,222.19A47.23,47.23 0 0 1 281.20,223.56M281.20,223.56L285.88,216.14M288.51,222.99L291.05,219.83M290.02,224.25L292.68,221.18M284.15,225.58A47.23,47.23 0 0 1 286.25,227.23M284.15,225.58L289.38,218.53M280.54,227.69A43.41,43.41 0 0 1 282.85,229.39M280.54,227.69L287.65,217.30M282.85,229.39L285.21,226.39M279.74,231.20A40.09,40.09 0 0 1 283.38,234.22M279.74,231.20L281.71,228.52M283.38,234.22L294.25,222.60M292.89,226.93L295.77,224.08M294.24,228.35L297.23,225.61M279.23,235.52A36.37,36.37 0 0 1 282.31,238.39M279.23,235.52L281.61,232.66M278.98,238.87A33.68,33.68 0 0 1 281.64,241.66M278.98,238.87L280.81,236.91M281.64,241.66L298.64,227.19M296.79,231.34A51.94,51.94 0 0 1 297.98,232.91M296.79,231.34L299.98,228.83M297.98,232.91L301.26,230.52M278.17,242.32A30.66,30.66 0 0 1 280.43,244.98M278.17,242.32L280.35,240.23M280.43,244.98L297.39,232.12M270.03,239.81A27.53,27.53 0 0 1 276.96,245.64M270.03,239.81L280.06,222.86M276.96,245.64L279.34,243.61M266.99,240.71A25.30,25.30 0 0 1 272.29,244.15M266.99,240.71L280.33,213.06M272.29,244.15L273.73,242.44M260.10,242.84A21.07,21.07 0 0 1 267.45,245.82M260.10,242.84L262.36,231.45M267.45,245.82L269.75,242.26M300.04,236.08L303.54,233.90M300.99,237.68L304.57,235.62M301.89,239.31L305.54,237.39M302.73,240.97L306.45,239.18M304.88,246.13L308.77,244.75M305.48,247.90L309.41,246.66M306.00,249.69A51.88,51.88 0 0 1 306.47,251.49M306.00,249.69L309.98,248.59M306.47,251.49L310.48,250.54M299.37,248.96A45.74,45.74 0 0 1 300.30,252.12M300.30,252.12L306.24,250.59M295.24,247.95A42.21,42.21 0 0 1 296.48,251.53M295.24,247.95L308.06,242.87M296.48,251.53L299.86,250.53M291.76,247.82A39.05,39.05 0 0 1 292.91,250.76M291.76,247.82L307.29,241.01M292.91,250.76L295.90,249.73M306.87,253.31L310.91,252.50M307.20,255.15L311.27,254.48M289.09,250.56A35.53,35.53 0 0 1 290.96,257.15M289.09,250.56L292.37,249.28M283.67,248.27A31.59,31.59 0 0 1 286.39,254.88M286.39,254.88L290.18,253.81M307.47,256.99L311.56,256.48M307.67,258.85L311.77,258.48M307.87,264.43A51.88,51.88 0 0 1 307.80,266.29M307.87,264.43L311.99,264.51M307.80,266.29L311.92,266.52M303.08,265.19A47.12,47.12 0 0 1 302.93,267.73M303.08,265.19L307.84,265.36M302.93,267.73L311.77,268.52M307.47,270.01L311.56,270.52M307.20,271.85L311.27,272.52M302.20,272.75L310.91,274.50M306.00,277.31L309.98,278.41M305.48,279.10L309.41,280.34M301.84,274.40L310.48,276.46M296.76,270.53A41.37,41.37 0 0 1 295.97,274.15M293.12,265.84A37.20,37.20 0 0 1 292.34,271.46M293.12,265.84L303.02,266.46M292.34,271.46L296.41,272.35M290.19,268.29A34.52,34.52 0 0 1 288.53,275.06M290.19,268.29L292.84,268.66M288.53,275.06L308.77,282.25M287.97,262.93A31.98,31.98 0 0 1 287.06,271.11M287.97,262.93L311.99,262.49M287.06,271.11L289.53,271.72M285.50,261.91A29.54,29.54 0 0 1 285.36,266.78M285.50,261.91L311.92,260.48M285.36,266.78L287.78,267.05M282.71,260.61A26.87,26.87 0 0 1 282.86,264.27M282.86,264.27L285.53,264.35M302.73,286.03L306.45,287.82M301.89,287.69L305.54,289.61M296.86,286.95L304.57,291.38M292.72,286.37L303.54,293.10M290.51,283.51A39.89,39.89 0 0 1 289.08,285.79M289.08,285.79L302.44,294.79M289.74,278.30A36.84,36.84 0 0 1 287.23,283.05M289.74,278.30L307.29,285.99M287.23,283.05L289.82,284.66M287.63,276.03A34.02,34.02 0 0 1 286.08,279.40M287.63,276.03L308.06,284.13M286.08,279.40L288.57,280.72M279.12,262.58A23.14,23.14 0 0 1 277.02,273.18M279.12,262.58L282.85,262.44M277.02,273.18L286.90,277.74M273.84,256.18A19.28,19.28 0 0 1 274.91,267.26M273.84,256.18L285.22,251.50M274.91,267.26L278.70,268.01M270.34,253.84A17.29,17.29 0 0 1 273.21,261.83M270.34,253.84L302.44,232.21M273.21,261.83L275.19,261.64M293.75,299.45L296.55,302.12M292.53,300.69L295.24,303.45M291.27,301.89A52.13,52.13 0 0 1 289.97,303.04M291.27,301.89L293.89,304.74M289.97,303.04L292.49,305.98M288.90,295.90A46.17,46.17 0 0 1 286.67,298.02M286.67,298.02L290.62,302.47M285.84,306.24L288.06,309.41M284.40,307.21L286.51,310.46M284.51,301.56A47.55,47.55 0 0 1 282.57,302.93M284.51,301.56L289.58,308.32M283.45,297.71A43.86,43.86 0 0 1 281.41,299.25M283.45,297.71L291.05,307.17M281.41,299.25L283.55,302.26M282.93,308.13L284.93,311.45M281.42,309.01L283.31,312.39M277.79,305.76L281.67,313.27M279.57,294.69A39.10,39.10 0 0 1 274.78,297.79M279.57,294.69L282.44,298.49M275.79,294.09A36.43,36.43 0 0 1 271.61,296.42M275.79,294.09L277.23,296.33M271.61,296.42L279.99,314.10M278.48,287.16A32.64,32.64 0 0 1 271.89,292.01M278.48,287.16L287.80,296.98M271.89,292.01L273.74,295.33M278.68,283.70A30.37,30.37 0 0 1 273.99,287.97M278.68,283.70L297.82,300.75M273.99,287.97L275.33,289.79M277.66,281.53A28.19,28.19 0 0 1 274.98,284.34M277.66,281.53L299.04,299.33M274.98,284.34L276.45,285.96M276.58,279.50A26.07,26.07 0 0 1 274.84,281.52M276.58,279.50L300.21,297.88M274.84,281.52L276.37,282.98M275.44,277.60A24.02,24.02 0 0 1 274.18,279.19M275.44,277.60L301.33,296.38M274.18,279.19L275.74,280.54M276.75,311.32L278.29,314.87M275.14,311.98L276.56,315.59M273.51,312.60L274.82,316.24M271.87,313.15L273.05,316.84M268.52,314.10L269.45,317.86M266.82,314.49L267.63,318.28M268.95,309.25A47.55,47.55 0 0 1 266.65,309.84M268.95,309.25L271.26,317.38M269.71,304.06A42.81,42.81 0 0 1 266.63,304.97M266.63,304.97L267.81,309.56M270.96,299.62A39.10,39.10 0 0 1 267.12,300.98M267.12,300.98L268.18,304.54M272.22,276.35A20.69,20.69 0 0 1 262.91,283.00M272.22,276.35L274.83,278.41M262.91,283.00L269.06,300.35M263.40,315.10A52.13,52.13 0 0 1 261.67,315.32M263.40,315.10L263.95,318.93M261.67,315.32L262.10,319.17M264.32,310.32A47.55,47.55 0 0 1 261.96,310.67M264.32,310.32L265.80,318.64M261.96,310.67L262.54,315.22M259.94,315.48L260.24,319.34M258.21,315.58L258.37,319.45M262.43,305.83A42.81,42.81 0 0 1 258.53,306.24M262.43,305.83L263.14,310.51M256.47,315.62L256.50,319.50M254.73,315.61L254.63,319.48M251.26,315.41L250.90,319.27M249.53,315.22L249.05,319.07M248.53,310.46L247.20,318.80M253.47,307.29L252.77,319.41M255.69,303.30A39.81,39.81 0 0 1 252.21,303.13M259.67,298.31A35.00,35.00 0 0 1 254.20,298.45M259.67,298.31L260.48,306.08M254.20,298.45L253.95,303.25M266.06,277.57A17.29,17.29 0 0 1 256.46,280.79M266.06,277.57L268.04,280.33M256.46,280.79L256.93,298.49M244.25,314.40L243.40,318.06M242.48,313.96L241.51,317.59M238.99,312.89L237.77,316.45M237.28,312.27L235.93,315.78M242.04,309.16L239.63,317.05M233.92,310.84L232.33,314.25M232.28,310.04L230.58,313.40M235.07,306.41A47.74,47.74 0 0 1 232.85,305.26M232.85,305.26L228.85,312.48M238.76,304.12A44.13,44.13 0 0 1 235.62,302.64M238.76,304.12L234.12,315.05M235.62,302.64L233.95,305.85M245.28,300.26A38.29,38.29 0 0 1 239.67,298.13M239.67,298.13L237.18,303.41M243.31,297.00A35.83,35.83 0 0 1 237.55,294.21M243.31,297.00L242.43,299.31M237.55,294.21L227.16,311.50M223.13,304.10A52.24,52.24 0 0 1 221.73,302.92M223.13,304.10L220.76,307.02M221.73,302.92L219.26,305.76M225.31,300.07A47.74,47.74 0 0 1 223.44,298.42M225.31,300.07L222.42,303.52M223.44,298.42L217.81,304.46M229.44,298.74A44.13,44.13 0 0 1 226.76,296.55M229.44,298.74L222.30,308.22M226.76,296.55L224.36,299.26M219.06,300.44L216.40,303.10M217.80,299.13L215.04,301.69M216.58,297.77L213.74,300.24M215.40,296.37L212.48,298.74M213.21,293.46L210.13,295.62M212.19,291.95L209.03,294.00M217.87,292.23L211.28,297.20M210.31,288.83L207.02,290.65M209.46,287.22L206.10,288.92M215.08,288.09A47.74,47.74 0 0 1 213.84,285.91M215.08,288.09L208.00,292.34M221.62,288.03A42.24,42.24 0 0 1 219.24,284.30M219.24,284.30L214.45,287.01M226.26,288.46A38.83,38.83 0 0 1 223.25,284.36M223.25,284.36L220.38,286.19M230.23,288.39A35.83,35.83 0 0 1 227.11,284.69M227.11,284.69L224.69,286.46M230.39,285.08A33.49,33.49 0 0 1 225.65,277.65M230.39,285.08L228.60,286.59M225.65,277.65L205.25,287.17M236.85,286.93A30.26,30.26 0 0 1 230.49,279.79M236.85,286.93L228.08,297.67M230.49,279.79L227.77,281.53M239.84,286.58A28.18,28.18 0 0 1 234.94,282.23M239.84,286.58L223.88,309.37M234.94,282.23L233.39,283.61M241.75,285.44A26.16,26.16 0 0 1 238.61,283.04M241.75,285.44L225.50,310.47M238.61,283.04L237.26,284.55M207.91,283.91L204.45,285.38M207.23,282.22L203.72,283.57M241.47,282.55A23.96,23.96 0 0 1 233.78,272.48M241.47,282.55L240.13,284.30M247.08,281.89A20.44,20.44 0 0 1 239.75,275.90M247.08,281.89L240.36,295.74M239.75,275.90L236.95,278.03M252.44,281.80A18.65,18.65 0 0 1 244.20,277.93M252.44,281.80L245.31,318.47M244.20,277.93L243.06,279.32M205.76,276.96A52.01,52.01 0 0 1 205.32,275.20M205.76,276.96L201.91,277.99M201.91,277.99L198.53,278.90M205.32,275.20L201.44,276.10M201.44,276.10L198.02,276.88M210.72,277.34A47.35,47.35 0 0 1 210.06,274.95M210.72,277.34L202.45,279.87M210.06,274.95L205.54,276.08M204.38,269.84A52.01,52.01 0 0 1 204.19,268.03M204.38,269.84L200.42,270.32M200.42,270.32L196.94,270.75M204.19,268.03L200.21,268.38M200.21,268.38L196.73,268.69M209.24,270.91A47.35,47.35 0 0 1 208.91,268.45M209.24,270.91L200.69,272.26M200.69,272.26L197.23,272.81M208.91,268.45L204.28,268.94M213.22,271.82A43.58,43.58 0 0 1 212.79,269.19M213.22,271.82L201.03,274.19M201.03,274.19L197.59,274.85M212.79,269.19L209.06,269.68M204.00,264.41L200.01,264.48M204.00,262.59L200.01,262.52M208.72,265.98A47.35,47.35 0 0 1 208.65,263.50M208.72,265.98L200.08,266.43M200.08,266.43L196.58,266.61M204.06,260.78L200.08,260.57M204.19,258.97L200.21,258.62M213.48,264.61A42.53,42.53 0 0 1 213.57,260.53M213.48,264.61L208.67,264.74M216.56,262.64A39.45,39.45 0 0 1 216.84,258.69M216.56,262.64L213.48,262.57M216.84,258.69L200.42,256.68M200.42,256.68L196.94,256.25M221.45,269.13A35.00,35.00 0 0 1 221.09,260.98M221.45,269.13L212.99,270.50M221.09,260.98L216.65,260.66M225.37,272.00A31.79,31.79 0 0 1 224.24,264.92M225.37,272.00L210.38,276.15M224.24,264.92L221.03,265.06M226.88,268.13A29.49,29.49 0 0 1 226.88,258.89M226.88,268.13L224.61,268.49M226.88,258.89L200.69,254.74M200.69,254.74L197.23,254.19M230.22,272.38A27.26,27.26 0 0 1 228.74,263.51M230.22,272.38L203.05,281.73M228.74,263.51L226.51,263.51M204.95,253.58A52.01,52.01 0 0 1 205.32,251.80M204.95,253.58L201.03,252.81M201.03,252.81L197.59,252.15M205.32,251.80L201.44,250.90M201.44,250.90L198.02,250.12M231.50,267.60A24.84,24.84 0 0 1 231.70,258.34M231.50,267.60L229.11,268.00M231.70,258.34L205.13,252.69M253.14,261.48L231.78,246.35M258.82,256.55L263.92,243.98M259.29,262.32L272.28,257.65M257.75,268.71L261.50,279.90M252.81,270.29L248.08,280.38M252.50,263.42L231.17,262.96M253.14,261.48A3.50,3.50 0 0 1 254.55,260.31M254.55,260.31L253.73,258.49M253.73,258.49A5.50,5.50 0 0 1 258.07,258.40M258.07,258.40L258.82,256.55M258.82,256.55A7.50,7.50 0 0 1 263.06,260.96M263.06,260.96L259.29,262.32M259.29,262.32A3.50,3.50 0 0 1 257.11,266.82M257.11,266.82L257.75,268.71M257.75,268.71A5.50,5.50 0 0 1 253.66,268.48M253.66,268.48L252.81,270.29M252.81,270.29A7.50,7.50 0 0 1 248.50,263.34M248.50,263.34L252.50,263.42" fill="none" stroke="#767676" stroke-width="0.60"/>
<path d="M206.10,238.08L202.99,236.49M210.50,237.90A52.20,52.20 0 0 1 211.60,236.05M207.19,236.04L204.14,234.32M208.37,234.05L205.39,232.21M218.97,241.65L211.04,236.97M218.48,228.30A51.45,51.45 0 0 1 219.81,226.93M218.48,228.30L212.61,222.78M219.81,226.93L214.15,221.21M221.03,233.04A46.38,46.38 0 0 1 222.77,231.14M221.03,233.04L211.14,224.42M222.77,231.14L219.14,227.61M221.19,225.62A51.45,51.45 0 0 1 222.62,224.36M221.19,225.62L215.74,219.69M222.62,224.36L217.39,218.23M225.60,222.00A51.45,51.45 0 0 1 227.16,220.90M225.60,222.00L220.84,215.50M227.16,220.90L222.64,214.23M230.39,218.88A51.45,51.45 0 0 1 232.05,217.97M230.39,218.88L226.38,211.90M232.05,217.97L228.31,210.84M231.44,224.16A46.38,46.38 0 0 1 233.66,222.86M231.44,224.16L224.49,213.03M233.66,222.86L231.22,218.42M234.62,227.05A42.26,42.26 0 0 1 237.73,225.40M234.62,227.05L232.54,223.49M237.73,225.40L230.27,209.85M234.24,232.61A37.79,37.79 0 0 1 238.26,230.14M234.24,232.61L226.37,221.44M238.26,230.14L236.16,226.19M235.49,216.32A51.45,51.45 0 0 1 237.25,215.59M235.49,216.32L232.27,208.93M237.25,215.59L234.31,208.09M238.30,220.63A46.38,46.38 0 0 1 240.70,219.72M238.30,220.63L236.36,215.95M240.70,219.72L236.37,207.33M238.46,234.97A33.49,33.49 0 0 1 244.08,232.21M238.46,234.97L236.21,231.31M244.08,232.21L239.49,220.16M236.97,239.44A30.68,30.68 0 0 1 242.45,235.98M236.97,239.44L219.09,216.83M242.45,235.98L241.21,233.46M237.70,242.84A27.60,27.60 0 0 1 241.26,240.17M237.70,242.84L221.90,224.98M241.26,240.17L239.62,237.56M238.05,246.96A24.41,24.41 0 0 1 241.35,243.98M238.05,246.96L221.89,232.08M241.35,243.98L239.43,241.43M244.51,213.35A51.45,51.45 0 0 1 246.38,212.96M244.51,213.35L242.72,205.50M246.38,212.96L244.87,205.05M243.98,218.70A46.38,46.38 0 0 1 246.48,218.11M243.98,218.70L240.58,206.03M246.48,218.11L245.44,213.15M246.19,222.40A42.26,42.26 0 0 1 249.64,221.73M246.19,222.40L245.23,218.39M249.64,221.73L247.04,204.68M248.60,225.57A38.64,38.64 0 0 1 251.60,225.11M248.60,225.57L247.90,222.03M251.60,225.11L249.22,204.39M245.58,229.71A35.37,35.37 0 0 1 250.59,228.55M245.58,229.71L238.46,206.64M250.59,228.55L250.09,225.31M253.94,212.10A51.45,51.45 0 0 1 255.84,212.05M253.94,212.10L253.61,204.05M255.84,212.05L255.81,204.00M252.43,217.26A46.38,46.38 0 0 1 255.00,217.13M252.43,217.26L251.41,204.18M255.00,217.13L254.89,212.07M253.91,221.30A42.26,42.26 0 0 1 257.43,221.27M253.91,221.30L253.71,217.18M257.43,221.27L258.01,204.03M249.12,233.60A30.68,30.68 0 0 1 255.76,232.82M249.12,233.60L248.06,229.04M255.76,232.82L255.67,221.25M242.59,248.67A20.00,20.00 0 0 1 253.66,243.64M242.59,248.67L239.63,245.40M253.66,243.64L252.42,233.03M265.54,212.44A51.94,51.94 0 0 1 267.46,212.84M266.29,208.45L266.93,205.01M268.36,208.88L269.13,205.47M265.55,217.25L266.50,212.63M270.42,209.39L271.32,206.01M271.26,213.85A51.94,51.94 0 0 1 273.12,214.46M272.45,209.97L273.48,206.63M274.46,210.63L275.62,207.33M269.21,223.25L272.19,214.15M274.97,215.15A51.94,51.94 0 0 1 276.78,215.90M276.45,211.37L277.73,208.11M278.40,212.18L279.80,208.97M269.68,230.46L275.88,215.51M280.32,217.60A51.94,51.94 0 0 1 282.04,218.56M282.22,214.02L283.86,210.92M284.07,215.04L285.82,212.01M278.90,222.19L281.18,218.07M285.88,216.14L287.75,213.18M288.51,222.99A51.94,51.94 0 0 1 290.02,224.25M291.05,219.83L293.24,217.10M292.68,221.18L294.97,218.54M289.38,218.53L291.46,215.72M286.25,227.23L289.27,223.61M287.65,217.30L289.63,214.42M294.25,222.60L296.64,220.04M292.89,226.93A51.94,51.94 0 0 1 294.24,228.35M295.77,224.08L298.26,221.61M297.23,225.61L299.81,223.24M282.31,238.39L293.57,227.64M298.64,227.19L301.30,224.92M299.98,228.83L302.73,226.66M280.33,213.06L281.85,209.91M304.88,246.13A51.88,51.88 0 0 1 305.48,247.90M308.77,244.75L312.07,243.58M309.41,246.66L312.75,245.61M309.98,248.59L313.35,247.66M299.37,248.96L305.19,247.01M306.00,277.31A51.88,51.88 0 0 1 305.48,279.10M309.98,278.41L313.35,279.34M309.41,280.34L312.75,281.39M301.84,274.40A47.12,47.12 0 0 1 301.18,276.86M310.48,276.46L313.88,277.27M301.18,276.86L305.75,278.21M295.97,274.15L301.53,275.64M308.77,282.25L312.07,283.42M311.92,260.48L315.41,260.29M302.73,286.03A51.88,51.88 0 0 1 301.89,287.69M306.45,287.82L309.60,289.34M305.54,289.61L308.64,291.24M298.07,284.72A47.12,47.12 0 0 1 296.86,286.95M298.07,284.72L302.32,286.86M304.57,291.38L307.60,293.12M294.08,284.01A43.26,43.26 0 0 1 292.72,286.37M294.08,284.01L297.48,285.84M303.54,293.10L306.51,294.95M290.51,283.51L293.42,285.20M302.44,294.79L305.34,296.75M307.29,285.99L310.49,287.39M308.06,284.13L311.31,285.42M292.49,305.98L294.77,308.63M291.05,307.17L293.24,309.90M244.25,314.40A52.24,52.24 0 0 1 242.48,313.96M243.40,318.06L242.62,321.48M241.51,317.59L240.60,320.97M238.99,312.89A52.24,52.24 0 0 1 237.28,312.27M237.77,316.45L236.63,319.76M235.93,315.78L234.68,319.05M242.04,309.16A47.74,47.74 0 0 1 239.67,308.36M239.63,317.05L238.60,320.40M239.67,308.36L238.13,312.59M245.58,305.30A43.08,43.08 0 0 1 242.33,304.35M245.58,305.30L243.36,314.19M242.33,304.35L240.85,308.78M245.28,300.26L243.94,304.86M210.31,288.83A52.24,52.24 0 0 1 209.46,287.22M207.02,290.65L203.96,292.35M206.10,288.92L202.99,290.51M213.84,285.91L209.88,288.02M245.31,318.47L244.65,321.91M253.73,258.49L247.73,245.29" fill="none" stroke="#e39a8a" stroke-width="0.72"/>
<path d="M209.62,232.11L206.73,230.15M210.96,230.23L208.14,228.15M212.37,228.40L209.64,226.20M311.92,266.52L315.41,266.71M219.06,300.44A52.24,52.24 0 0 1 217.80,299.13M216.40,303.10L213.93,305.57M215.04,301.69L212.48,304.08M230.23,288.39L218.42,299.79" fill="none" stroke="#b8a898" stroke-width="0.72"/>
<path d="M301.26,230.52L304.09,228.46M300.04,236.08A51.88,51.88 0 0 1 300.99,237.68M303.54,233.90L306.51,232.05M304.57,235.62L307.60,233.88M301.89,239.31A51.88,51.88 0 0 1 302.73,240.97M305.54,237.39L308.64,235.76M306.45,239.18L309.60,237.66M295.25,240.02A45.74,45.74 0 0 1 296.84,242.90M295.25,240.02L300.52,236.87M296.84,242.90L302.32,240.14M308.06,242.87L311.31,241.58M307.29,241.01L310.49,239.61M283.67,248.27L296.07,241.45M302.44,232.21L305.34,230.25M285.84,306.24A52.13,52.13 0 0 1 284.40,307.21M288.06,309.41L290.07,312.28M286.51,310.46L288.42,313.39M282.57,302.93L285.13,306.73M282.93,308.13A52.13,52.13 0 0 1 281.42,309.01M284.93,311.45L286.74,314.45M283.31,312.39L285.02,315.44M279.88,304.62A47.55,47.55 0 0 1 277.79,305.76M279.88,304.62L282.18,308.58M281.67,313.27L283.27,316.38M274.78,297.79L278.84,305.20M279.99,314.10L281.49,317.26M268.52,314.10A52.13,52.13 0 0 1 266.82,314.49M269.45,317.86L270.29,321.26M267.63,318.28L268.36,321.70M266.65,309.84L267.67,314.30M263.95,318.93L264.45,322.40M265.80,318.64L266.41,322.08M233.92,310.84A52.24,52.24 0 0 1 232.28,310.04M232.33,314.25L230.85,317.43M230.58,313.40L228.99,316.51M235.07,306.41L233.10,310.45M234.12,315.05L232.75,318.27M220.76,307.02L218.56,309.74M219.26,305.76L216.96,308.41M217.81,304.46L215.42,307.02M222.30,308.22L220.19,311.02M223.88,309.37L221.87,312.24M204.00,264.41A52.01,52.01 0 0 1 204.00,262.59M200.01,264.48L196.51,264.54M200.01,262.52L196.51,262.46M208.65,263.50L203.99,263.50M204.06,260.78A52.01,52.01 0 0 1 204.19,258.97M200.08,260.57L196.58,260.39M200.21,258.62L196.73,258.31M213.57,260.53L204.12,259.87" fill="none" stroke="#84cce2" stroke-width="0.72"/>
<path d="M311.99,264.51L315.49,264.57M311.99,262.49L315.49,262.43M289.58,308.32L291.67,311.12M205.25,287.17L202.07,288.65" fill="none" stroke="#b4b4b4" stroke-width="0.72"/>
<path d="M228.85,312.48L227.15,315.54M227.16,311.50L225.36,314.50M225.50,310.47L223.59,313.40" fill="none" stroke="#94b0d4" stroke-width="0.72"/>
<line x1="254.97" y1="260.68" x2="207.08" y2="232.34" stroke="#4aa89a" stroke-width="0.5"/>
<line x1="255.48" y1="260.55" x2="208.78" y2="229.82" stroke="#5aa8a0" stroke-width="0.45"/>
<path d="M190.21,247.10A67.80,67.80 0 0 1 195.59,232.72L200.76,235.35A62.00,62.00 0 0 0 195.84,248.50Z" fill="#14917f" />
<path d="M195.59,232.72A67.80,67.80 0 0 1 198.50,227.57L203.42,230.65A62.00,62.00 0 0 0 200.76,235.35Z" fill="#b0584a" />
<path d="M198.50,227.57A67.80,67.80 0 0 1 204.06,219.92L208.51,223.65A62.00,62.00 0 0 0 203.42,230.65Z" fill="#8b6355" />
<path d="M204.06,219.92A67.80,67.80 0 0 1 215.20,209.35L218.69,213.98A62.00,62.00 0 0 0 208.51,223.65Z" fill="#b0584a" />
<path d="M215.20,209.35A67.80,67.80 0 0 1 221.08,205.38L224.07,210.36A62.00,62.00 0 0 0 218.69,213.98Z" fill="#2f5f8f" />
<path d="M221.08,205.38A67.80,67.80 0 0 1 258.37,195.74L258.16,201.54A62.00,62.00 0 0 0 224.07,210.36Z" fill="#b0584a" />
<path d="M258.37,195.74A67.80,67.80 0 0 1 267.77,196.73L266.77,202.44A62.00,62.00 0 0 0 258.16,201.54Z" fill="#14917f" />
<path d="M267.77,196.73A67.80,67.80 0 0 1 310.64,223.36L305.97,226.80A62.00,62.00 0 0 0 266.77,202.44Z" fill="#b0584a" />
<path d="M310.64,223.36A67.80,67.80 0 0 1 319.71,240.31L314.26,242.29A62.00,62.00 0 0 0 305.97,226.80Z" fill="#1a8aa6" />
<path d="M319.71,240.31A67.80,67.80 0 0 1 321.49,245.95L315.89,247.45A62.00,62.00 0 0 0 314.26,242.29Z" fill="#b0584a" />
<path d="M321.49,245.95A67.80,67.80 0 0 1 323.54,257.59L317.76,258.10A62.00,62.00 0 0 0 315.89,247.45Z" fill="#14917f" />
<path d="M323.54,257.59A67.80,67.80 0 0 1 323.71,259.95L317.92,260.26A62.00,62.00 0 0 0 317.76,258.10Z" fill="#b0584a" />
<path d="M323.71,259.95A67.80,67.80 0 0 1 323.79,262.32L317.99,262.42A62.00,62.00 0 0 0 317.92,260.26Z" fill="#b9b0a6" />
<path d="M323.79,262.32A67.80,67.80 0 0 1 323.79,264.68L317.99,264.58A62.00,62.00 0 0 0 317.99,262.42Z" fill="#b0584a" />
<path d="M323.79,264.68A67.80,67.80 0 0 1 323.71,267.05L317.92,266.74A62.00,62.00 0 0 0 317.99,264.58Z" fill="#b9b0a6" />
<path d="M323.71,267.05A67.80,67.80 0 0 1 323.54,269.41L317.76,268.90A62.00,62.00 0 0 0 317.92,266.74Z" fill="#8b6355" />
<path d="M323.54,269.41A67.80,67.80 0 0 1 322.06,278.75L316.41,277.45A62.00,62.00 0 0 0 317.76,268.90Z" fill="#14917f" />
<path d="M322.06,278.75A67.80,67.80 0 0 1 311.54,302.39L306.79,299.06A62.00,62.00 0 0 0 316.41,277.45Z" fill="#b0584a" />
<path d="M311.54,302.39A67.80,67.80 0 0 1 301.37,313.89L297.49,309.57A62.00,62.00 0 0 0 306.79,299.06Z" fill="#14917f" />
<path d="M301.37,313.89A67.80,67.80 0 0 1 297.74,316.93L294.17,312.36A62.00,62.00 0 0 0 297.49,309.57Z" fill="#b0584a" />
<path d="M297.74,316.93A67.80,67.80 0 0 1 295.85,318.35L292.44,313.66A62.00,62.00 0 0 0 294.17,312.36Z" fill="#b9b0a6" />
<path d="M295.85,318.35A67.80,67.80 0 0 1 283.58,325.44L281.22,320.14A62.00,62.00 0 0 0 292.44,313.66Z" fill="#2a7a8a" />
<path d="M283.58,325.44A67.80,67.80 0 0 1 272.40,329.29L271.00,323.66A62.00,62.00 0 0 0 281.22,320.14Z" fill="#14917f" />
<path d="M272.40,329.29A67.80,67.80 0 0 1 264.26,330.79L263.56,325.04A62.00,62.00 0 0 0 271.00,323.66Z" fill="#1a8aa6" />
<path d="M264.26,330.79A67.80,67.80 0 0 1 244.23,330.27L245.23,324.56A62.00,62.00 0 0 0 263.56,325.04Z" fill="#14917f" />
<path d="M244.23,330.27A67.80,67.80 0 0 1 229.51,325.91L231.77,320.57A62.00,62.00 0 0 0 245.23,324.56Z" fill="#b0584a" />
<path d="M229.51,325.91A67.80,67.80 0 0 1 223.13,322.80L225.94,317.73A62.00,62.00 0 0 0 231.77,320.57Z" fill="#1a8aa6" />
<path d="M223.13,322.80A67.80,67.80 0 0 1 218.09,319.71L221.33,314.90A62.00,62.00 0 0 0 225.94,317.73Z" fill="#2f5f8f" />
<path d="M218.09,319.71A67.80,67.80 0 0 1 212.42,315.44L216.15,310.99A62.00,62.00 0 0 0 221.33,314.90Z" fill="#1a8aa6" />
<path d="M212.42,315.44A67.80,67.80 0 0 1 208.06,311.44L212.16,307.34A62.00,62.00 0 0 0 216.15,310.99Z" fill="#2a7a8a" />
<path d="M208.06,311.44A67.80,67.80 0 0 1 205.61,308.87L209.93,304.99A62.00,62.00 0 0 0 212.16,307.34Z" fill="#8b6355" />
<path d="M205.61,308.87A67.80,67.80 0 0 1 197.28,297.40L202.31,294.50A62.00,62.00 0 0 0 209.93,304.99Z" fill="#14917f" />
<path d="M197.28,297.40A67.80,67.80 0 0 1 195.06,293.22L200.27,290.68A62.00,62.00 0 0 0 202.31,294.50Z" fill="#b0584a" />
<path d="M195.06,293.22A67.80,67.80 0 0 1 194.06,291.08L199.36,288.72A62.00,62.00 0 0 0 200.27,290.68Z" fill="#b9b0a6" />
<path d="M194.06,291.08A67.80,67.80 0 0 1 190.83,282.19L196.40,280.59A62.00,62.00 0 0 0 199.36,288.72Z" fill="#14917f" />
<path d="M190.83,282.19A67.80,67.80 0 0 1 188.24,265.87L194.04,265.66A62.00,62.00 0 0 0 196.40,280.59Z" fill="#3a5f95" />
<path d="M188.24,265.87A67.80,67.80 0 0 1 188.57,256.41L194.34,257.02A62.00,62.00 0 0 0 194.04,265.66Z" fill="#1a8aa6" />
<path d="M188.57,256.41A67.80,67.80 0 0 1 190.21,247.10L195.84,248.50A62.00,62.00 0 0 0 194.34,257.02Z" fill="#1a8094" />
<path d="M195.84,248.50L190.02,247.05M200.76,235.35L195.41,232.63M203.42,230.65L198.33,227.47M208.51,223.65L203.91,219.79M218.69,213.98L215.08,209.19M224.07,210.36L220.98,205.21M258.16,201.54L258.37,195.54M266.77,202.44L267.81,196.53M305.97,226.80L310.80,223.24M314.26,242.29L319.90,240.24M315.89,247.45L321.68,245.90M317.76,258.10L323.74,257.57M317.92,260.26L323.91,259.94M317.99,262.42L323.99,262.31M317.99,264.58L323.99,264.69M317.92,266.74L323.91,267.06M317.76,268.90L323.74,269.43M316.41,277.45L322.26,278.80M306.79,299.06L311.70,302.50M297.49,309.57L301.50,314.03M294.17,312.36L297.86,317.08M292.44,313.66L295.97,318.51M281.22,320.14L283.66,325.62M271.00,323.66L272.45,329.48M263.56,325.04L264.29,330.99M245.23,324.56L244.19,330.47M231.77,320.57L229.43,326.09M225.94,317.73L223.03,322.97M221.33,314.90L217.97,319.87M216.15,310.99L212.29,315.59M212.16,307.34L207.92,311.58M209.93,304.99L205.47,309.00M202.31,294.50L197.11,297.50M200.27,290.68L194.88,293.31M199.36,288.72L193.88,291.16M196.40,280.59L190.63,282.24M194.04,265.66L188.04,265.87M194.34,257.02L188.37,256.39" fill="none" stroke="#fff" stroke-opacity="0.4" stroke-width="0.3"/>
<path d="M193.30,227.30A72.40,72.40 0 0 1 195.28,224.07L198.05,225.87A69.10,69.10 0 0 0 196.16,228.95Z" fill="#a9a3d9" />
<path d="M195.98,223.01A72.40,72.40 0 0 1 199.34,218.43L201.92,220.48A69.10,69.10 0 0 0 198.71,224.86Z" fill="#1fa9a8" />
<path d="M200.13,217.45A72.40,72.40 0 0 1 203.92,213.21L206.29,215.50A69.10,69.10 0 0 0 202.68,219.55Z" fill="#1fa9a8" />
<path d="M204.63,212.48A72.40,72.40 0 0 1 206.16,210.98L208.43,213.38A69.10,69.10 0 0 0 206.97,214.81Z" fill="#12a058" />
<path d="M207.09,210.12A72.40,72.40 0 0 1 208.98,208.45L211.12,210.96A69.10,69.10 0 0 0 209.32,212.55Z" fill="#12a058" />
<path d="M209.95,207.63A72.40,72.40 0 0 1 243.43,192.20L244.00,195.45A69.10,69.10 0 0 0 212.05,210.18Z" fill="#12a058" />
<path d="M244.67,191.99A72.40,72.40 0 0 1 248.31,191.51L248.66,194.79A69.10,69.10 0 0 0 245.19,195.25Z" fill="#e8908a" />
<path d="M250.45,191.31A72.40,72.40 0 0 1 257.26,191.11L257.21,194.41A69.10,69.10 0 0 0 250.70,194.60Z" fill="#d9333f" />
<path d="M259.03,191.16A72.40,72.40 0 0 1 264.82,191.64L264.42,194.92A69.10,69.10 0 0 0 258.89,194.46Z" fill="#e0569f" />
<path d="M266.08,191.80A72.40,72.40 0 0 1 313.75,219.83L311.11,221.82A69.10,69.10 0 0 0 265.62,195.07Z" fill="#e0569f" />
<path d="M314.57,220.94A72.40,72.40 0 0 1 323.73,237.91L320.64,239.07A69.10,69.10 0 0 0 311.90,222.88Z" fill="#e0569f" />
<path d="M324.25,239.33A72.40,72.40 0 0 1 328.12,257.19L324.84,257.48A69.10,69.10 0 0 0 321.14,240.43Z" fill="#e0569f" />
<path d="M328.22,258.45A72.40,72.40 0 0 1 328.39,264.76L325.09,264.71A69.10,69.10 0 0 0 324.93,258.68Z" fill="#e0569f" />
<path d="M328.36,266.03A72.40,72.40 0 0 1 328.12,269.81L324.84,269.52A69.10,69.10 0 0 0 325.06,265.91Z" fill="#e0569f" />
<path d="M328.00,271.07A72.40,72.40 0 0 1 326.68,279.17L323.46,278.46A69.10,69.10 0 0 0 324.72,270.72Z" fill="#e0569f" />
<path d="M326.25,281.02A72.40,72.40 0 0 1 325.42,284.06L322.25,283.13A69.10,69.10 0 0 0 323.05,280.22Z" fill="#e0569f" />
<path d="M325.05,285.27A72.40,72.40 0 0 1 324.03,288.26L320.93,287.13A69.10,69.10 0 0 0 321.90,284.28Z" fill="#e0569f" />
<path d="M323.59,289.45A72.40,72.40 0 0 1 322.40,292.37L319.37,291.05A69.10,69.10 0 0 0 320.51,288.26Z" fill="#e0569f" />
<path d="M321.88,293.52A72.40,72.40 0 0 1 318.38,300.25L315.54,298.57A69.10,69.10 0 0 0 318.88,292.16Z" fill="#e0569f" />
<path d="M316.37,303.46A72.40,72.40 0 0 1 308.95,312.88L306.54,310.63A69.10,69.10 0 0 0 313.62,301.64Z" fill="#1565c0" />
<path d="M307.19,314.69A72.40,72.40 0 0 1 305.38,316.45L303.13,314.04A69.10,69.10 0 0 0 304.86,312.36Z" fill="#1565c0" />
<path d="M304.45,317.30A72.40,72.40 0 0 1 302.54,318.96L300.42,316.43A69.10,69.10 0 0 0 302.24,314.85Z" fill="#1565c0" />
<path d="M301.56,319.77A72.40,72.40 0 0 1 299.07,321.70L297.10,319.05A69.10,69.10 0 0 0 299.49,317.20Z" fill="#1565c0" />
<path d="M296.49,323.52A72.40,72.40 0 0 1 244.18,334.93L244.71,331.67A69.10,69.10 0 0 0 294.64,320.79Z" fill="#1565c0" />
<path d="M242.56,334.64A72.40,72.40 0 0 1 236.77,333.30L237.65,330.12A69.10,69.10 0 0 0 243.17,331.40Z" fill="#1565c0" />
<path d="M235.80,333.03A72.40,72.40 0 0 1 230.64,331.32L231.80,328.22A69.10,69.10 0 0 0 236.72,329.86Z" fill="#1565c0" />
<path d="M229.58,330.91A72.40,72.40 0 0 1 226.55,329.64L227.89,326.63A69.10,69.10 0 0 0 230.79,327.84Z" fill="#1565c0" />
<path d="M224.83,328.85A72.40,72.40 0 0 1 192.68,228.40L195.56,230.00A69.10,69.10 0 0 0 226.25,325.87Z" fill="#1565c0" />
<text x="247.60" y="185.90" font-size="5.4" fill="#d9333f" stroke="#d9333f" stroke-width="0.1404" font-weight="bold" text-anchor="start" transform="rotate(0.03 247.6 185.9)" >CLAN51</text>
<text x="212.30" y="191.20" font-size="5.4" fill="#eba09a" stroke="#eba09a" stroke-width="0.1404" font-weight="bold" text-anchor="start" transform="rotate(0.03 212.3 191.2)" >CLAN710</text>
<text x="194.60" y="200.70" font-size="5.4" fill="#12a058" stroke="#12a058" stroke-width="0.1404" font-weight="bold" text-anchor="start" transform="rotate(0.03 194.6 200.7)" >CLAN72</text>
<text x="170.00" y="216.10" font-size="5.4" fill="#1fa9c0" stroke="#1fa9c0" stroke-width="0.1404" font-weight="bold" text-anchor="start" transform="rotate(0.03 170.0 216.1)" >CLAN97</text>
<text x="166.20" y="230.00" font-size="5.4" fill="#b0a8e0" stroke="#b0a8e0" stroke-width="0.1404" font-weight="bold" text-anchor="start" transform="rotate(0.03 166.2 230.0)" >CLAN86</text>
<text x="322.80" y="305.40" font-size="5.4" fill="#e0569f" stroke="#e0569f" stroke-width="0.1404" font-weight="bold" text-anchor="start" transform="rotate(0.03 322.8 305.4)" >CLAN85</text>
<text x="191.60" y="326.20" font-size="5.4" fill="#1565c0" stroke="#1565c0" stroke-width="0.1404" font-weight="bold" text-anchor="start" transform="rotate(0.03 191.6 326.2)" >CLAN71</text>
<text x="195.97" y="220.69" font-size="2.3" fill="#555" stroke="#555" stroke-width="0.05059999999999999" font-weight="normal" text-anchor="end" transform="rotate(0.03 196.0 220.7)" >CYP97A</text>
<text x="200.43" y="215.13" font-size="2.3" fill="#555" stroke="#555" stroke-width="0.05059999999999999" font-weight="normal" text-anchor="end" transform="rotate(0.03 200.4 215.1)" >CYP97B</text>
<text x="203.99" y="211.38" font-size="2.3" fill="#555" stroke="#555" stroke-width="0.05059999999999999" font-weight="normal" text-anchor="end" transform="rotate(0.03 204.0 211.4)" >CYP734</text>
<text x="206.83" y="208.73" font-size="2.3" fill="#555" stroke="#555" stroke-width="0.05059999999999999" font-weight="normal" text-anchor="end" transform="rotate(0.03 206.8 208.7)" >CYP714</text>
<text x="228.20" y="195.50" font-size="2.3" fill="#555" stroke="#555" stroke-width="0.05059999999999999" font-weight="normal" text-anchor="end" transform="rotate(0.03 228.2 195.5)" >CYP72</text>
<text x="248.89" y="190.44" font-size="2.3" fill="#555" stroke="#555" stroke-width="0.05059999999999999" font-weight="normal" text-anchor="middle" transform="rotate(0.03 248.9 190.4)" >CYP710</text>
<text x="254.96" y="190.11" font-size="2.3" fill="#555" stroke="#555" stroke-width="0.05059999999999999" font-weight="normal" text-anchor="middle" transform="rotate(0.03 255.0 190.1)" >CYP51</text>
<text x="262.72" y="190.41" font-size="2.3" fill="#555" stroke="#555" stroke-width="0.05059999999999999" font-weight="normal" text-anchor="middle" transform="rotate(0.03 262.7 190.4)" >CYP725</text>
<text x="299.61" y="204.27" font-size="2.3" fill="#555" stroke="#555" stroke-width="0.05059999999999999" font-weight="normal" text-anchor="start" transform="rotate(0.03 299.6 204.3)" >CYP716</text>
<text x="321.51" y="229.47" font-size="2.3" fill="#555" stroke="#555" stroke-width="0.05059999999999999" font-weight="normal" text-anchor="start" transform="rotate(0.03 321.5 229.5)" >CYP707</text>
<text x="328.58" y="248.87" font-size="2.3" fill="#555" stroke="#555" stroke-width="0.05059999999999999" font-weight="normal" text-anchor="start" transform="rotate(0.03 328.6 248.9)" >CYP88</text>
<text x="330.20" y="263.65" font-size="2.3" fill="#555" stroke="#555" stroke-width="0.05059999999999999" font-weight="normal" text-anchor="start" transform="rotate(0.03 330.2 263.7)" >CYP90</text>
<text x="329.97" y="270.12" font-size="2.3" fill="#555" stroke="#555" stroke-width="0.05059999999999999" font-weight="normal" text-anchor="start" transform="rotate(0.03 330.0 270.1)" >CYP85</text>
<text x="329.07" y="277.18" font-size="2.3" fill="#555" stroke="#555" stroke-width="0.05059999999999999" font-weight="normal" text-anchor="start" transform="rotate(0.03 329.1 277.2)" >CYP724</text>
<text x="327.67" y="283.50" font-size="2.3" fill="#555" stroke="#555" stroke-width="0.05059999999999999" font-weight="normal" text-anchor="start" transform="rotate(0.03 327.7 283.5)" >CYP87</text>
<text x="326.37" y="287.84" font-size="2.3" fill="#555" stroke="#555" stroke-width="0.05059999999999999" font-weight="normal" text-anchor="start" transform="rotate(0.03 326.4 287.8)" >CYP708</text>
<text x="324.80" y="292.10" font-size="2.3" fill="#555" stroke="#555" stroke-width="0.05059999999999999" font-weight="normal" text-anchor="start" transform="rotate(0.03 324.8 292.1)" >CYP705</text>
<text x="321.82" y="298.56" font-size="2.3" fill="#555" stroke="#555" stroke-width="0.05059999999999999" font-weight="normal" text-anchor="start" transform="rotate(0.03 321.8 298.6)" >CYP720</text>
<text x="314.47" y="309.98" font-size="2.3" fill="#555" stroke="#555" stroke-width="0.05059999999999999" font-weight="normal" text-anchor="start" transform="rotate(0.03 314.5 310.0)" >CYP701</text>
<text x="307.54" y="317.68" font-size="2.3" fill="#555" stroke="#555" stroke-width="0.05059999999999999" font-weight="normal" text-anchor="start" transform="rotate(0.03 307.5 317.7)" >CYP706</text>
<text x="304.68" y="320.30" font-size="2.3" fill="#555" stroke="#555" stroke-width="0.05059999999999999" font-weight="normal" text-anchor="start" transform="rotate(0.03 304.7 320.3)" >CYP93</text>
<text x="301.68" y="322.77" font-size="2.3" fill="#555" stroke="#555" stroke-width="0.05059999999999999" font-weight="normal" text-anchor="start" transform="rotate(0.03 301.7 322.8)" >CYP92</text>
<text x="271.43" y="336.88" font-size="2.3" fill="#555" stroke="#555" stroke-width="0.05059999999999999" font-weight="normal" text-anchor="start" transform="rotate(0.03 271.4 336.9)" >CYP76</text>
<text x="239.31" y="336.60" font-size="2.3" fill="#555" stroke="#555" stroke-width="0.05059999999999999" font-weight="normal" text-anchor="end" transform="rotate(0.03 239.3 336.6)" >CYP98</text>
<text x="233.07" y="334.87" font-size="2.3" fill="#555" stroke="#555" stroke-width="0.05059999999999999" font-weight="normal" text-anchor="end" transform="rotate(0.03 233.1 334.9)" >CYP73</text>
<text x="227.60" y="332.85" font-size="2.3" fill="#555" stroke="#555" stroke-width="0.05059999999999999" font-weight="normal" text-anchor="end" transform="rotate(0.03 227.6 332.9)" >CYP79</text>
<text x="183.42" y="279.73" font-size="2.3" fill="#555" stroke="#555" stroke-width="0.05059999999999999" font-weight="normal" text-anchor="end" transform="rotate(0.03 183.4 279.7)" >CYP71</text>
<rect x="186.8" y="342.9" width="6.2" height="6.2" fill="#4a6fa5" stroke="#777" stroke-opacity="0.55" stroke-width="0.35"/>
<text x="194.00" y="348.10" font-size="6.0" fill="#222" stroke="#222" stroke-width="0.132" font-weight="normal" text-anchor="start" transform="rotate(0.03 194.0 348.1)" >monoterpenoid</text>
<rect x="235.4" y="342.9" width="6.2" height="6.2" fill="#29b6e6" stroke="#777" stroke-opacity="0.55" stroke-width="0.35"/>
<text x="242.60" y="348.10" font-size="6.0" fill="#222" stroke="#222" stroke-width="0.132" font-weight="normal" text-anchor="start" transform="rotate(0.03 242.6 348.1)" >sesquiterpenoid</text>
<rect x="286.2" y="342.9" width="6.2" height="6.2" fill="#14a79d" stroke="#777" stroke-opacity="0.55" stroke-width="0.35"/>
<text x="293.40" y="348.10" font-size="6.0" fill="#222" stroke="#222" stroke-width="0.132" font-weight="normal" text-anchor="start" transform="rotate(0.03 293.4 348.1)" >diterpenoid</text>
<rect x="186.8" y="353.09999999999997" width="6.2" height="6.2" fill="#e8836b" stroke="#777" stroke-opacity="0.55" stroke-width="0.35"/>
<text x="194.00" y="358.30" font-size="6.0" fill="#222" stroke="#222" stroke-width="0.132" font-weight="normal" text-anchor="start" transform="rotate(0.03 194.0 358.3)" >triterpenoid</text>
<rect x="235.4" y="353.09999999999997" width="6.2" height="6.2" fill="#8f7560" stroke="#777" stroke-opacity="0.55" stroke-width="0.35"/>
<text x="242.60" y="358.30" font-size="6.0" fill="#222" stroke="#222" stroke-width="0.132" font-weight="normal" text-anchor="start" transform="rotate(0.03 242.6 358.3)" >tetraterpenoid</text>
<rect x="286.2" y="353.09999999999997" width="6.2" height="6.2" fill="#b9b0a6" stroke="#777" stroke-opacity="0.55" stroke-width="0.35"/>
<text x="293.40" y="358.30" font-size="6.0" fill="#222" stroke="#222" stroke-width="0.132" font-weight="normal" text-anchor="start" transform="rotate(0.03 293.4 358.3)" >meroterpenoid</text>
<rect x="220.2" y="361.1" width="4.4" height="4.4" fill="#e79bc8" stroke="#a85a92" stroke-width="0.45"/>
<text x="226.80" y="365.40" font-size="6.0" fill="#222" stroke="#222" stroke-width="0.132" font-weight="normal" text-anchor="start" transform="rotate(0.03 226.8 365.4)" >more than one substrate</text>
</g>
<g id="panelF">
<text x="353.60" y="176.20" font-size="7.7" fill="#111" stroke="#111" stroke-width="0.2002" font-weight="bold" text-anchor="start" transform="rotate(0.03 353.6 176.2)" >F</text>
<path d="M376.63,231.91A63.70,63.70 0 0 1 412.60,201.99L413.51,204.74A60.80,60.80 0 0 0 379.17,233.30Z" fill="#f2b8aa" />
<path d="M412.60,201.99A63.70,63.70 0 0 1 419.26,200.19L419.86,203.03A60.80,60.80 0 0 0 413.51,204.74Z" fill="#a4dff0" />
<path d="M419.26,200.19A63.70,63.70 0 0 1 450.49,201.39L449.67,204.17A60.80,60.80 0 0 0 419.86,203.03Z" fill="#b0cae8" />
<path d="M450.49,201.39A63.70,63.70 0 0 1 464.35,207.33L462.90,209.85A60.80,60.80 0 0 0 449.67,204.17Z" fill="#b0cae8" />
<path d="M464.35,207.33A63.70,63.70 0 0 1 469.94,210.97L468.24,213.31A60.80,60.80 0 0 0 462.90,209.85Z" fill="#a4dff0" />
<path d="M469.94,210.97A63.70,63.70 0 0 1 494.31,247.09L491.49,247.79A60.80,60.80 0 0 0 468.24,213.31Z" fill="#93dad2" />
<path d="M494.31,247.09A63.70,63.70 0 0 1 494.03,278.99L491.23,278.24A60.80,60.80 0 0 0 491.49,247.79Z" fill="#93dad2" />
<path d="M494.03,278.99A63.70,63.70 0 0 1 492.36,284.29L489.63,283.29A60.80,60.80 0 0 0 491.23,278.24Z" fill="#a4dff0" />
<path d="M492.36,284.29A63.70,63.70 0 0 1 490.23,289.42L487.60,288.20A60.80,60.80 0 0 0 489.63,283.29Z" fill="#b0cae8" />
<path d="M490.23,289.42A63.70,63.70 0 0 1 487.10,295.31L484.62,293.81A60.80,60.80 0 0 0 487.60,288.20Z" fill="#a4dff0" />
<path d="M487.10,295.31A63.70,63.70 0 0 1 482.00,302.59L479.75,300.76A60.80,60.80 0 0 0 484.62,293.81Z" fill="#b0cae8" />
<path d="M482.00,302.59A63.70,63.70 0 0 1 476.75,308.32L474.74,306.24A60.80,60.80 0 0 0 479.75,300.76Z" fill="#a4dff0" />
<path d="M476.75,308.32A63.70,63.70 0 0 1 466.26,316.52L464.72,314.06A60.80,60.80 0 0 0 474.74,306.24Z" fill="#b0cae8" />
<path d="M466.26,316.52A63.70,63.70 0 0 1 462.41,318.74L461.04,316.18A60.80,60.80 0 0 0 464.72,314.06Z" fill="#b0cae8" />
<path d="M462.41,318.74A63.70,63.70 0 0 1 429.17,326.11L429.32,323.22A60.80,60.80 0 0 0 461.04,316.18Z" fill="#b0cae8" />
<path d="M429.17,326.11A63.70,63.70 0 0 1 411.76,322.73L412.71,319.99A60.80,60.80 0 0 0 429.32,323.22Z" fill="#a4dff0" />
<path d="M411.76,322.73A63.70,63.70 0 0 1 382.30,301.72L384.59,299.93A60.80,60.80 0 0 0 412.71,319.99Z" fill="#a4dff0" />
<path d="M382.30,301.72A63.70,63.70 0 0 1 374.31,288.41L376.96,287.23A60.80,60.80 0 0 0 384.59,299.93Z" fill="#a4dff0" />
<path d="M374.31,288.41A63.70,63.70 0 0 1 368.80,262.50L371.70,262.50A60.80,60.80 0 0 0 376.96,287.23Z" fill="#a4dff0" />
<path d="M368.80,262.50A63.70,63.70 0 0 1 369.27,254.74L372.15,255.09A60.80,60.80 0 0 0 371.70,262.50Z" fill="#a4dff0" />
<path d="M369.27,254.74A63.70,63.70 0 0 1 370.69,247.09L373.51,247.79A60.80,60.80 0 0 0 372.15,255.09Z" fill="#a4dff0" />
<path d="M370.69,247.09A63.70,63.70 0 0 1 372.09,242.29L374.84,243.21A60.80,60.80 0 0 0 373.51,247.79Z" fill="#93dad2" />
<path d="M372.09,242.29A63.70,63.70 0 0 1 372.72,240.50L375.44,241.51A60.80,60.80 0 0 0 374.84,243.21Z" fill="#dcd8d2" />
<path d="M372.72,240.50A63.70,63.70 0 0 1 373.44,238.64L376.13,239.72A60.80,60.80 0 0 0 375.44,241.51Z" fill="#a4dff0" />
<path d="M385.84,234.61A54.36,54.36 0 0 1 387.02,232.73M385.84,234.61L380.14,231.20M387.02,232.73L381.46,229.09M389.60,229.12A54.36,54.36 0 0 1 391.00,227.39M389.60,229.12L384.36,225.04M391.00,227.39L385.93,223.11M393.56,230.91A50.14,50.14 0 0 1 395.57,228.58M393.56,230.91L390.29,228.25M395.57,228.58L387.57,221.24M394.00,224.13A54.36,54.36 0 0 1 395.59,222.59M394.00,224.13L389.29,219.44M395.59,222.59L391.09,217.71M397.79,232.53A45.86,45.86 0 0 1 400.69,229.47M397.79,232.53L394.55,229.73M400.69,229.47L394.79,223.35M397.53,237.51A42.98,42.98 0 0 1 401.29,232.95M397.53,237.51L382.87,227.04M401.29,232.95L399.20,230.97M398.73,241.37A39.84,39.84 0 0 1 401.76,237.16M398.73,241.37L386.42,233.66M401.76,237.16L399.33,235.16M397.25,221.11A54.36,54.36 0 0 1 398.97,219.71M397.25,221.11L392.95,216.06M398.97,219.71L394.88,214.48M400.77,223.67A50.14,50.14 0 0 1 403.21,221.80M400.77,223.67L398.11,220.40M403.21,221.80L396.87,212.99M402.57,217.12A54.36,54.36 0 0 1 404.45,215.94M402.57,217.12L398.92,211.58M404.45,215.94L401.02,210.25M405.75,220.08A50.14,50.14 0 0 1 408.40,218.53M405.75,220.08L403.51,216.52M408.40,218.53L403.18,209.01M408.34,213.80A54.36,54.36 0 0 1 410.35,212.86M408.34,213.80L405.39,207.86M410.35,212.86L407.64,206.79M409.24,222.98A45.86,45.86 0 0 1 412.96,221.01M409.24,222.98L407.07,219.29M412.96,221.01L409.34,213.32M406.97,229.23A41.94,41.94 0 0 1 412.91,225.42M406.97,229.23L401.98,222.72M412.91,225.42L411.08,221.95M411.22,229.32A39.41,39.41 0 0 1 417.92,225.88M411.22,229.32L409.86,227.20M417.92,225.88L409.94,205.83M415.58,229.57A37.02,37.02 0 0 1 420.22,227.57M415.58,229.57L414.49,227.44M420.22,227.57L412.27,204.95M405.72,243.21A33.00,33.00 0 0 1 419.46,232.19M405.72,243.21L400.18,239.22M419.46,232.19L417.87,228.49M403.50,246.75A33.00,33.00 0 0 1 411.84,236.77M429.42,260.83L403.50,246.75" fill="none" stroke="#e39a8a" stroke-width="0.66"/>
<path d="M421.10,211.60A52.16,52.16 0 0 1 422.52,211.30M421.10,211.60L419.17,202.97M422.52,211.30L420.83,202.63M421.08,217.41A46.52,46.52 0 0 1 422.97,216.97M421.08,217.41L417.52,203.37M422.97,216.97L421.81,211.44M421.09,222.21A41.87,41.87 0 0 1 423.07,221.71M421.09,222.21L415.88,203.81M423.07,221.71L422.02,217.18M421.20,226.46A37.77,37.77 0 0 1 423.10,225.92M421.20,226.46L414.26,204.29M423.10,225.92L422.08,221.95M426.83,210.65A52.16,52.16 0 0 1 428.27,210.51M426.83,210.65L425.87,201.86M428.27,210.51L427.55,201.70M426.16,216.42A46.52,46.52 0 0 1 428.08,216.19M426.16,216.42L424.18,202.07M428.08,216.19L427.55,210.57M425.64,221.20A41.87,41.87 0 0 1 427.66,220.91M425.64,221.20L422.50,202.32M427.66,220.91L427.12,216.30M423.69,231.58A32.15,32.15 0 0 1 428.01,230.67M423.69,231.58L422.15,226.18M428.01,230.67L426.65,221.04M429.72,210.41A52.16,52.16 0 0 1 431.17,210.35M429.72,210.41L429.25,201.59M431.17,210.35L430.94,201.52M432.62,210.34A52.16,52.16 0 0 1 434.07,210.36M432.62,210.34L432.64,201.50M434.07,210.36L434.34,201.53M433.25,215.99A46.52,46.52 0 0 1 435.19,216.06M433.25,215.99L433.35,210.34M435.19,216.06L436.03,201.60M436.97,210.53A52.16,52.16 0 0 1 438.41,210.67M436.97,210.53L437.73,201.72M438.41,210.67L439.41,201.89M437.13,216.21A46.52,46.52 0 0 1 439.06,216.45M437.13,216.21L437.69,210.60M439.06,216.45L441.10,202.11M433.98,222.58A39.95,39.95 0 0 1 437.30,222.84M433.98,222.58L434.22,216.01M437.30,222.84L438.09,216.32M431.10,226.95A35.58,35.58 0 0 1 435.30,227.03M431.10,226.95L430.44,210.38M435.30,227.03L435.65,222.68M427.00,236.58A26.50,26.50 0 0 1 433.02,236.01M427.00,236.58L425.83,231.05M433.02,236.01L433.20,226.93M441.29,211.08A52.16,52.16 0 0 1 442.71,211.35M441.29,211.08L442.77,202.37M442.71,211.35L444.44,202.68M440.97,216.76A46.52,46.52 0 0 1 442.87,217.15M440.97,216.76L442.00,211.21M442.87,217.15L446.10,203.04M440.98,221.50A41.87,41.87 0 0 1 442.97,221.96M440.98,221.50L441.92,216.95M442.97,221.96L447.75,203.44M446.94,212.38A52.16,52.16 0 0 1 448.33,212.80M446.94,212.38L449.39,203.88M448.33,212.80L451.01,204.38M440.86,226.55A36.91,36.91 0 0 1 443.21,227.18M440.86,226.55L441.98,221.72M443.21,227.18L447.64,212.58M449.71,213.26A52.16,52.16 0 0 1 451.07,213.75M449.71,213.26L452.62,204.91M451.07,213.75L454.22,205.50M440.95,230.92A32.69,32.69 0 0 1 443.71,231.79M440.95,230.92L442.04,226.84M443.71,231.79L450.39,213.50M453.75,214.86A52.16,52.16 0 0 1 455.07,215.47M453.75,214.86L457.35,206.79M455.07,215.47L458.89,207.51M457.65,216.80A52.16,52.16 0 0 1 458.91,217.52M457.65,216.80L461.91,209.06M458.91,217.52L463.39,209.90M455.49,222.06A46.52,46.52 0 0 1 457.16,223.06M455.49,222.06L458.28,217.15M457.16,223.06L464.84,210.78M451.66,225.27A41.87,41.87 0 0 1 453.95,226.54M451.66,225.27L460.41,208.26M453.95,226.54L456.33,222.55M448.01,229.00A36.91,36.91 0 0 1 450.41,230.22M448.01,229.00L454.41,215.16M450.41,230.22L452.82,225.89M445.22,231.72A33.31,33.31 0 0 1 447.59,232.81M445.22,231.72L455.79,206.12M447.59,232.81L449.22,229.59M461.37,219.06A52.16,52.16 0 0 1 462.57,219.88M461.37,219.06L466.26,211.70M462.57,219.88L467.66,212.66M444.77,235.81A29.38,29.38 0 0 1 449.10,238.26M444.77,235.81L446.41,232.24M449.10,238.26L461.98,219.46M439.67,239.79A23.82,23.82 0 0 1 444.24,241.78M439.67,239.79L442.34,231.33M444.24,241.78L446.99,236.95M430.79,244.44A18.15,18.15 0 0 1 439.75,245.86M430.79,244.44L430.00,236.12M439.75,245.86L442.01,240.67M433.37,257.07L435.36,244.58" fill="none" stroke="#a9bdd8" stroke-width="0.66"/>
<path d="M465.63,221.65A52.60,52.60 0 0 1 467.06,222.85M465.63,221.65L470.93,215.12M467.06,222.85L472.58,216.51M462.93,226.31A47.28,47.28 0 0 1 464.81,227.98M462.93,226.31L466.35,222.24M468.37,224.17L474.18,217.96M471.07,226.73A52.60,52.60 0 0 1 472.31,228.12M471.07,226.73L477.23,221.02M472.31,228.12L478.67,222.63M466.01,229.15A47.28,47.28 0 0 1 467.73,230.97M469.71,225.46L475.73,219.47M467.73,230.97L471.70,227.42M473.51,229.55A52.60,52.60 0 0 1 474.65,231.03M473.51,229.55L480.05,224.29M474.65,231.03L481.38,226.00M469.88,233.54A47.28,47.28 0 0 1 471.36,235.57M469.88,233.54L474.08,230.29M475.65,232.60L482.64,227.76M462.32,234.36A41.00,41.00 0 0 1 465.57,238.26M462.32,234.36L466.88,230.05M465.57,238.26L470.63,234.55M476.77,234.09A52.60,52.60 0 0 1 477.75,235.67M476.77,234.09L483.84,229.55M477.75,235.67L484.97,231.39M460.85,238.88L464.00,236.26M463.91,243.12L477.27,234.88M454.28,237.95L463.88,227.13M478.67,237.29A52.60,52.60 0 0 1 479.53,238.94M478.67,237.29L486.04,233.27M479.53,238.94L487.04,235.18M474.39,240.58A47.28,47.28 0 0 1 475.50,242.84M474.39,240.58L479.11,238.12M480.24,240.67L487.98,237.13M471.05,243.62A42.92,42.92 0 0 1 472.14,246.04M471.05,243.62L474.96,241.70M480.99,242.37L488.84,239.11M481.77,244.07A52.60,52.60 0 0 1 482.39,245.82M481.77,244.07L489.63,241.12M482.39,245.82L490.35,243.16M467.35,246.75A38.24,38.24 0 0 1 468.55,249.74M467.35,246.75L471.62,244.82M468.55,249.74L482.08,244.94M458.79,251.93L467.98,248.23M464.11,220.58L469.22,213.79M482.85,247.63L491.00,245.22M484.55,254.87A52.60,52.60 0 0 1 484.78,256.72M484.55,254.87L492.86,253.65M484.78,256.72L493.13,255.80M479.01,253.99A47.28,47.28 0 0 1 479.39,256.47M484.14,253.05L492.50,251.52M479.39,256.47L484.67,255.79M474.42,253.28A42.92,42.92 0 0 1 474.91,255.90M483.78,251.23L492.08,249.40M474.91,255.90L479.22,255.23M470.37,252.76A39.10,39.10 0 0 1 470.93,255.29M483.34,249.42L491.58,247.30M470.93,255.29L474.69,254.59M484.96,258.57A52.60,52.60 0 0 1 485.06,260.43M484.96,258.57L493.33,257.95M485.06,260.43L493.45,260.11M466.56,254.93L470.67,254.02M467.34,260.51L485.02,259.50M485.08,264.16A52.60,52.60 0 0 1 484.98,266.02M485.08,264.16L493.47,264.43M484.98,266.02L493.36,266.58M479.78,262.32A47.28,47.28 0 0 1 479.72,264.83M485.00,262.30L493.50,262.27M479.72,264.83L485.04,265.09M484.83,267.88A52.60,52.60 0 0 1 484.60,269.73M484.83,267.88L493.18,268.74M484.60,269.73L492.92,270.88M474.35,263.45A41.86,41.86 0 0 1 474.06,267.52M474.35,263.45L479.77,263.57M474.06,267.52L484.72,268.80M484.31,271.57A52.60,52.60 0 0 1 483.96,273.40M484.31,271.57L492.59,273.02M483.96,273.40L492.18,275.14M478.92,271.47A47.28,47.28 0 0 1 478.38,273.93M478.92,271.47L484.15,272.48M483.44,275.19L491.69,277.24M469.31,265.13L474.25,265.49M468.53,270.46L478.67,272.70M382.62,247.03L374.24,244.43M381.87,248.63L373.67,246.39" fill="none" stroke="#6cc2b8" stroke-width="0.66"/>
<path d="M464.81,227.98L468.37,224.17M466.01,229.15L469.71,225.46M471.36,235.57L475.65,232.60M460.85,238.88A36.90,36.90 0 0 1 463.91,243.12M454.28,237.95A32.82,32.82 0 0 1 459.14,243.33M459.14,243.33L462.46,240.95M475.50,242.84L480.24,240.67M472.14,246.04L480.99,242.37M453.53,243.51A28.33,28.33 0 0 1 458.79,251.93M453.53,243.51L456.86,240.51M447.93,242.03A25.64,25.64 0 0 1 454.24,248.92M447.93,242.03L464.11,220.58M454.24,248.92L456.53,247.49M449.48,246.95A23.03,23.03 0 0 1 454.58,255.98M449.48,246.95L451.41,245.18M454.58,255.98L482.85,247.63M479.01,253.99L484.14,253.05M474.42,253.28L483.78,251.23M470.37,252.76L483.34,249.42M466.56,254.93A34.89,34.89 0 0 1 467.34,260.51M479.78,262.32L485.00,262.30M478.38,273.93L483.44,275.19M469.31,265.13A36.90,36.90 0 0 1 468.53,270.46M461.12,258.53A28.89,28.89 0 0 1 461.09,266.66M461.12,258.53L467.06,257.71M461.09,266.66L469.02,267.81M448.30,253.57A18.15,18.15 0 0 1 450.65,262.56M448.30,253.57L452.55,251.17M450.65,262.56L461.39,262.60M478.80,279.24A49.24,49.24 0 0 1 477.89,281.59M478.80,279.24L481.87,280.35M475.00,279.11A45.63,45.63 0 0 1 473.61,282.32M475.00,279.11L478.36,280.42M473.61,282.32L479.79,285.30M471.47,279.48A42.51,42.51 0 0 1 470.14,282.25M471.47,279.48L474.34,280.73M470.14,282.25L478.99,286.90M470.26,274.72A39.69,39.69 0 0 1 468.29,279.66M470.26,274.72L482.45,278.66M468.29,279.66L470.83,280.88M468.16,272.71A37.09,37.09 0 0 1 466.94,276.26M468.16,272.71L482.97,276.95M466.94,276.26L469.36,277.22M468.33,296.27L470.70,298.51M468.34,289.00A44.57,44.57 0 0 1 465.70,292.23M467.21,285.52A41.65,41.65 0 0 1 464.80,288.80M467.21,285.52L476.25,291.51M464.80,288.80L467.06,290.65M465.70,282.92A38.97,38.97 0 0 1 463.89,285.60M465.70,282.92L477.22,290.01M463.89,285.60L466.04,287.19M464.20,280.54A36.47,36.47 0 0 1 462.75,282.88M464.20,280.54L478.13,288.47M462.75,282.88L464.82,284.28M461.49,280.48A34.11,34.11 0 0 1 456.51,286.73M461.49,280.48L463.49,281.72M456.51,286.73L469.45,299.79M457.42,282.35A31.86,31.86 0 0 1 454.14,285.88M457.42,282.35L459.18,283.75M454.14,285.88L468.16,301.03M458.75,271.47A27.74,27.74 0 0 1 452.83,281.37M458.75,271.47L467.60,274.50M452.83,281.37L455.85,284.18M454.43,275.61A25.55,25.55 0 0 1 448.88,282.12M454.43,275.61L456.31,276.73M450.33,277.73A23.45,23.45 0 0 1 446.27,281.49M450.33,277.73L451.93,279.10M453.60,306.45L455.22,309.83M453.26,302.38L456.74,309.07M452.92,298.81L458.24,308.26M450.10,296.13A37.96,37.96 0 0 1 444.95,298.36M446.29,294.40A34.76,34.76 0 0 1 441.75,296.00M446.29,294.40L447.56,297.34M443.09,292.55A31.86,31.86 0 0 1 438.97,293.70M443.09,292.55L444.05,295.28M440.43,290.97A29.55,29.55 0 0 1 437.09,291.69M440.43,290.97L441.05,293.20M437.09,291.69L440.65,314.36M435.35,311.17L435.57,314.91M433.68,307.44L433.87,314.98M438.10,288.28A26.38,26.38 0 0 1 433.94,288.84M438.10,288.28L438.77,291.38M445.28,282.84A24.03,24.03 0 0 1 435.71,286.31M435.71,286.31L436.03,288.65M430.62,311.21A48.75,48.75 0 0 1 428.25,311.07M430.62,311.21L430.47,314.96M429.67,307.37A44.96,44.96 0 0 1 426.41,307.05M429.67,307.37L429.43,311.15M426.41,307.05L425.39,314.52M432.24,304.16A41.66,41.66 0 0 1 428.36,303.95M432.24,304.16L432.17,315.00M428.36,303.95L428.04,307.24M430.46,301.12A38.68,38.68 0 0 1 426.02,300.63M430.46,301.12L430.30,304.10M426.02,300.63L423.71,314.26M422.78,310.27L422.03,313.95M419.30,305.48L417.09,312.69M428.72,296.56A34.27,34.27 0 0 1 423.64,295.61M428.72,296.56L428.23,300.94M439.41,281.56A20.28,20.28 0 0 1 428.75,282.43M439.41,281.56L440.68,285.09M428.75,282.43L426.16,296.18M415.50,312.07A52.41,52.41 0 0 1 413.90,311.49M413.90,311.49L413.87,311.58M413.87,311.58L410.85,319.53M410.77,310.19A52.41,52.41 0 0 1 409.23,309.46M410.77,310.19L410.73,310.27M410.73,310.27L407.20,318.01M409.23,309.46L409.19,309.54M409.19,309.54L405.42,317.16M412.35,304.89A46.94,46.94 0 0 1 410.31,303.86M412.35,304.89L410.00,309.83M410.31,303.86L407.68,308.76M407.68,308.76L403.66,316.25M416.16,301.68A42.45,42.45 0 0 1 413.34,300.39M416.16,301.68L412.29,310.95M412.29,310.95L409.02,318.80M413.34,300.39L411.32,304.39M406.24,307.85A52.41,52.41 0 0 1 404.78,306.98M406.24,307.85L406.19,307.93M406.19,307.93L401.93,315.29M404.78,306.98L404.73,307.06M404.73,307.06L400.24,314.27M408.32,302.73A46.94,46.94 0 0 1 406.40,301.51M408.32,302.73L405.51,307.42M406.40,301.51L403.31,306.13M403.31,306.13L398.58,313.20M401.96,305.09A52.41,52.41 0 0 1 400.60,304.08M401.96,305.09L401.91,305.16M401.91,305.16L396.95,312.07M400.60,304.08L400.54,304.15M400.54,304.15L395.37,310.89M410.33,297.45A41.39,41.39 0 0 1 407.84,295.74M410.33,297.45L407.35,302.13M407.84,295.74L401.28,304.59M417.54,294.99A35.77,35.77 0 0 1 412.25,291.98M417.54,294.99L414.74,301.06M412.25,291.98L409.07,296.62M399.27,303.02A52.41,52.41 0 0 1 397.97,301.92M399.27,303.02L399.21,303.09M399.21,303.09L393.82,309.67M397.97,301.92L397.91,301.99M397.91,301.99L392.31,308.39M396.71,300.78A52.41,52.41 0 0 1 395.49,299.60M396.71,300.78L396.65,300.85M396.65,300.85L390.84,307.06M395.49,299.60L395.42,299.67M395.42,299.67L389.42,305.69M399.89,296.26A46.94,46.94 0 0 1 398.29,294.64M399.89,296.26L396.10,300.20M398.29,294.64L394.24,298.45M394.24,298.45L388.04,304.27M405.74,294.07A41.39,41.39 0 0 1 403.03,291.57M405.74,294.07L398.61,302.48M403.03,291.57L399.08,295.46M406.90,290.10A37.65,37.65 0 0 1 404.24,287.37M406.90,290.10L404.36,292.85M404.24,287.37L393.09,297.19M393.09,297.19L386.71,302.81M391.00,294.51A52.41,52.41 0 0 1 389.99,293.14M391.00,294.51L390.93,294.56M390.93,294.56L384.20,299.75M389.99,293.14L389.91,293.20M389.91,293.20L383.02,298.17M396.28,292.36A46.94,46.94 0 0 1 394.87,290.56M396.28,292.36L391.99,295.89M391.99,295.89L385.43,301.30M394.87,290.56L390.49,293.83M389.02,291.75A52.41,52.41 0 0 1 388.09,290.33M389.02,291.75L388.94,291.80M388.94,291.80L381.89,296.55M388.09,290.33L388.01,290.38M388.01,290.38L380.81,294.89M393.13,288.06A46.94,46.94 0 0 1 391.94,286.12M393.13,288.06L388.55,291.04M391.94,286.12L387.13,288.92M387.13,288.92L379.79,293.20M386.38,287.39A52.41,52.41 0 0 1 385.60,285.88M386.38,287.39L386.30,287.44M386.30,287.44L378.82,291.47M385.60,285.88L385.52,285.93M385.52,285.93L377.91,289.72M397.25,284.19A41.39,41.39 0 0 1 395.76,281.57M397.25,284.19L392.52,287.10M395.76,281.57L385.99,286.64M384.18,282.80A52.41,52.41 0 0 1 383.55,281.22M384.18,282.80L384.10,282.83M384.10,282.83L376.26,286.12M383.55,281.22L383.46,281.25M383.46,281.25L375.52,284.29M389.84,282.07A46.94,46.94 0 0 1 388.94,279.97M389.84,282.07L384.78,284.39M384.78,284.39L377.06,287.93M388.94,279.97L383.86,282.01M400.90,280.39A36.31,36.31 0 0 1 399.14,276.83M400.90,280.39L396.48,282.89M399.14,276.83L389.37,281.03M407.24,282.32A32.11,32.11 0 0 1 403.74,276.77M407.24,282.32L395.57,291.47M403.74,276.77L399.97,278.64M412.80,281.70A27.51,27.51 0 0 1 409.23,277.18M412.80,281.70L405.54,288.77M409.23,277.18L405.34,279.63M421.10,282.56A23.08,23.08 0 0 1 414.38,276.79M421.10,282.56L414.83,293.60M414.38,276.79L410.90,279.53M425.61,281.57A20.28,20.28 0 0 1 419.28,277.88M425.61,281.57L414.70,311.79M419.28,277.88L417.46,280.00M381.68,274.53A52.22,52.22 0 0 1 381.31,272.83M381.68,274.53L381.41,274.59M381.41,274.59L373.14,276.55M381.31,272.83L381.04,272.89M381.04,272.89L372.71,274.57M386.96,272.48A46.62,46.62 0 0 1 386.52,270.19M386.96,272.48L381.49,273.68M386.52,270.19L380.72,271.16M380.72,271.16L372.34,272.57M391.97,273.53A42.01,42.01 0 0 1 391.26,270.47M391.97,273.53L381.84,276.29M381.84,276.29L373.64,278.52M391.26,270.47L386.73,271.34M396.24,273.68A37.94,37.94 0 0 1 395.54,271.09M396.24,273.68L382.33,277.97M382.33,277.97L374.21,280.47M395.54,271.09L391.58,272.01M399.45,271.42A34.23,34.23 0 0 1 398.57,267.02M399.45,271.42L395.87,272.39M398.57,267.02L380.46,269.44M380.46,269.44L372.03,270.56M403.41,272.54A30.77,30.77 0 0 1 402.33,268.56M403.41,272.54L382.87,279.63M382.87,279.63L374.84,282.41M402.33,268.56L398.94,269.24M380.54,267.67A52.22,52.22 0 0 1 380.39,265.94M380.54,267.67L380.26,267.70M380.26,267.70L371.80,268.54M380.39,265.94L380.11,265.95M380.11,265.95L371.63,266.51M385.91,264.02A46.62,46.62 0 0 1 385.89,261.69M385.91,264.02L380.03,264.21M380.03,264.21L371.53,264.48M391.70,265.87A40.94,40.94 0 0 1 391.56,262.81M391.70,265.87L380.46,266.80M391.56,262.81L385.89,262.85M386.05,258.58A46.62,46.62 0 0 1 386.30,256.27M386.30,256.27L380.47,255.48M380.47,255.48L372.05,254.35M381.01,253.80A52.22,52.22 0 0 1 381.33,252.09M381.01,253.80L380.73,253.75M380.73,253.75L372.35,252.34M381.33,252.09L381.05,252.03M381.05,252.03L372.72,250.34M391.80,258.04A40.94,40.94 0 0 1 392.25,255.01M391.80,258.04L386.16,257.43M392.25,255.01L381.16,252.94M397.81,264.06A34.72,34.72 0 0 1 398.15,257.43M397.81,264.06L391.60,264.34M398.15,257.43L392.00,256.52M382.62,247.03A52.22,52.22 0 0 1 383.16,245.38M388.21,247.95A46.62,46.62 0 0 1 388.99,245.76M388.21,247.95L382.89,246.21M388.99,245.76L383.50,243.65M383.50,243.65L375.57,240.59M391.99,251.40A42.01,42.01 0 0 1 392.93,248.40M391.99,251.40L381.87,248.63M392.93,248.40L388.59,246.85M395.59,253.70A37.94,37.94 0 0 1 396.31,251.11M395.59,253.70L381.43,250.33M381.43,250.33L373.16,248.35M396.31,251.11L392.43,249.89M402.50,260.98A30.04,30.04 0 0 1 403.55,254.50M402.50,260.98L397.82,260.74M403.55,254.50L395.93,252.40M410.36,268.51A22.94,22.94 0 0 1 409.86,258.84M410.36,268.51L402.80,270.57M409.86,258.84L402.85,257.71M439.76,260.60L450.06,257.91M434.87,265.07L448.41,279.73M432.94,267.98L434.14,282.71M428.72,268.98L422.28,280.01M429.00,262.68L409.59,263.71M429.42,260.83A3.50,3.50 0 0 1 433.05,259.04M433.05,259.04L433.37,257.07M433.37,257.07A5.50,5.50 0 0 1 437.82,261.11M437.82,261.11L439.76,260.60M439.76,260.60A7.50,7.50 0 0 1 437.59,268.01M437.59,268.01L434.87,265.07M434.87,265.07A3.50,3.50 0 0 1 432.78,265.99M432.78,265.99L432.94,267.98M432.94,267.98A5.50,5.50 0 0 1 429.73,267.25M429.73,267.25L428.72,268.98M428.72,268.98A7.50,7.50 0 0 1 425.01,262.89M425.01,262.89L429.00,262.68" fill="none" stroke="#9a9a9a" stroke-width="0.55"/>
<path d="M482.37,282.48A53.73,53.73 0 0 1 481.66,284.17M482.37,282.48L489.12,285.19M481.66,284.17L488.32,287.10M477.89,281.59L482.03,283.33M476.24,293.70A53.73,53.73 0 0 1 475.15,295.17M476.24,293.70L482.16,297.92M475.15,295.17L480.93,299.59M468.34,289.00L475.70,294.44M476.25,291.51L483.34,296.21M477.22,290.01L484.46,294.46M468.16,301.03L473.93,307.27M467.63,303.15A53.73,53.73 0 0 1 466.22,304.32M467.63,303.15L472.39,308.65M466.22,304.32L470.79,309.99M448.88,282.12L466.93,303.74M464.78,305.45A53.73,53.73 0 0 1 463.30,306.52M464.78,305.45L469.15,311.26M463.30,306.52L467.47,312.48M446.27,281.49L464.04,305.99M461.67,307.29A53.45,53.45 0 0 1 460.20,308.21M461.67,307.29L465.79,313.62M460.20,308.21L464.11,314.67M454.06,311.41A53.45,53.45 0 0 1 452.46,312.08M454.06,311.41L457.10,318.32M452.46,312.08L455.28,319.09M453.60,306.45A48.75,48.75 0 0 1 451.44,307.42M455.22,309.83L458.90,317.49M451.44,307.42L453.26,311.75M453.26,302.38A44.96,44.96 0 0 1 450.97,303.49M456.74,309.07L460.67,316.61M450.97,303.49L452.52,306.95M452.92,298.81A41.66,41.66 0 0 1 450.68,299.98M458.24,308.26L462.41,315.67M450.68,299.98L452.12,302.95M450.84,312.70A53.45,53.45 0 0 1 449.21,313.27M450.84,312.70L453.43,319.80M449.21,313.27L451.57,320.44M450.10,296.13L451.81,299.41M444.95,298.36L450.03,312.99M447.55,313.78A53.45,53.45 0 0 1 445.88,314.24M447.55,313.78L449.68,321.03M445.88,314.24L447.77,321.56M441.75,296.00L446.72,314.02M444.20,314.65A53.45,53.45 0 0 1 442.50,315.00M444.20,314.65L445.85,322.02M442.50,315.00L443.92,322.42M438.97,293.70L443.35,314.83M440.65,314.36L441.97,322.76M439.08,315.54A53.45,53.45 0 0 1 437.36,315.73M439.08,315.54L440.01,323.04M437.36,315.73L438.04,323.25M437.72,310.97A48.75,48.75 0 0 1 435.35,311.17M437.72,310.97L438.22,315.64M435.57,314.91L436.07,323.40M436.22,307.31A44.96,44.96 0 0 1 433.68,307.44M436.22,307.31L436.54,311.08M433.87,314.98L434.10,323.48M433.94,288.84L434.95,307.39M445.28,282.84L460.94,307.75M430.47,314.96L430.14,323.45M432.17,315.00L432.12,323.50" fill="none" stroke="#94b0d4" stroke-width="0.66"/>
<path d="M481.87,280.35L489.86,283.24M479.79,285.30L487.45,288.99M478.99,286.90L486.51,290.85M482.45,278.66L490.54,281.28M482.97,276.95L491.14,279.29M474.01,296.61A53.73,53.73 0 0 1 472.83,298.00M474.01,296.61L479.63,301.22M472.83,298.00L478.29,302.81M470.01,294.40A49.24,49.24 0 0 1 468.33,296.27M470.01,294.40L473.43,297.31M470.70,298.51L476.89,304.34M465.70,292.23L469.18,295.35M478.13,288.47L485.52,292.67M469.45,299.79L475.44,305.83M428.71,315.81A53.45,53.45 0 0 1 426.98,315.66M428.71,315.81L428.17,323.35M426.98,315.66L426.20,323.17M428.25,311.07L427.84,315.74M425.39,314.52L424.24,322.94M423.71,314.26L422.28,322.64M420.15,314.50A53.45,53.45 0 0 1 418.47,314.07M420.15,314.50L418.41,321.85M418.47,314.07L416.49,321.36M422.78,310.27A48.75,48.75 0 0 1 420.47,309.74M422.03,313.95L420.34,322.28M420.47,309.74L419.31,314.29M422.47,306.33A44.96,44.96 0 0 1 419.30,305.48M422.47,306.33L421.62,310.02M417.09,312.69L414.59,320.81M423.64,295.61L420.88,305.93M415.50,312.07L412.71,320.20M380.28,262.46A52.22,52.22 0 0 1 380.31,260.72M380.28,262.46L371.50,262.45M380.31,260.72L371.54,260.42M385.89,261.69L380.29,261.59M380.40,258.98A52.22,52.22 0 0 1 380.54,257.25M380.40,258.98L371.64,258.39M380.54,257.25L371.81,256.36M386.05,258.58L380.46,258.11" fill="none" stroke="#84cce2" stroke-width="0.66"/>
<path d="M383.16,245.38L374.87,242.50" fill="none" stroke="#b4b4b4" stroke-width="0.66"/>
<line x1="403.50" y1="246.75" x2="378.01" y2="232.92" stroke="#e39a8a" stroke-width="0.6"/>
<path d="M371.98,229.81A69.00,69.00 0 0 1 410.95,197.40L412.73,202.82A63.30,63.30 0 0 0 376.98,232.55Z" fill="#b0584a" />
<path d="M410.95,197.40A69.00,69.00 0 0 1 418.15,195.46L419.34,201.03A63.30,63.30 0 0 0 412.73,202.82Z" fill="#1a8aa6" />
<path d="M418.15,195.46A69.00,69.00 0 0 1 451.98,196.76L450.37,202.23A63.30,63.30 0 0 0 419.34,201.03Z" fill="#2f5f8f" />
<path d="M451.98,196.76A69.00,69.00 0 0 1 467.00,203.19L464.15,208.13A63.30,63.30 0 0 0 450.37,202.23Z" fill="#2f5f8f" />
<path d="M467.00,203.19A69.00,69.00 0 0 1 473.06,207.13L469.71,211.74A63.30,63.30 0 0 0 464.15,208.13Z" fill="#1a8aa6" />
<path d="M473.06,207.13A69.00,69.00 0 0 1 499.45,246.26L493.92,247.64A63.30,63.30 0 0 0 469.71,211.74Z" fill="#14917f" />
<path d="M499.45,246.26A69.00,69.00 0 0 1 499.15,280.81L493.64,279.33A63.30,63.30 0 0 0 493.92,247.64Z" fill="#14917f" />
<path d="M499.15,280.81A69.00,69.00 0 0 1 497.34,286.55L491.98,284.60A63.30,63.30 0 0 0 493.64,279.33Z" fill="#2a7a8a" />
<path d="M497.34,286.55A69.00,69.00 0 0 1 495.04,292.11L489.87,289.70A63.30,63.30 0 0 0 491.98,284.60Z" fill="#2f5f8f" />
<path d="M495.04,292.11A69.00,69.00 0 0 1 491.64,298.49L486.76,295.55A63.30,63.30 0 0 0 489.87,289.70Z" fill="#1a8aa6" />
<path d="M491.64,298.49A69.00,69.00 0 0 1 486.12,306.37L481.69,302.79A63.30,63.30 0 0 0 486.76,295.55Z" fill="#2f5f8f" />
<path d="M486.12,306.37A69.00,69.00 0 0 1 480.43,312.58L476.47,308.48A63.30,63.30 0 0 0 481.69,302.79Z" fill="#1a8aa6" />
<path d="M480.43,312.58A69.00,69.00 0 0 1 469.06,321.47L466.04,316.63A63.30,63.30 0 0 0 476.47,308.48Z" fill="#2f5f8f" />
<path d="M469.06,321.47A69.00,69.00 0 0 1 464.89,323.87L462.22,318.84A63.30,63.30 0 0 0 466.04,316.63Z" fill="#2f5f8f" />
<path d="M464.89,323.87A69.00,69.00 0 0 1 428.89,331.86L429.19,326.16A63.30,63.30 0 0 0 462.22,318.84Z" fill="#2f5f8f" />
<path d="M428.89,331.86A69.00,69.00 0 0 1 410.04,328.19L411.89,322.80A63.30,63.30 0 0 0 429.19,326.16Z" fill="#1a8aa6" />
<path d="M410.04,328.19A69.00,69.00 0 0 1 378.13,305.43L382.62,301.92A63.30,63.30 0 0 0 411.89,322.80Z" fill="#1b8ca4" />
<path d="M378.13,305.43A69.00,69.00 0 0 1 369.47,291.01L374.67,288.70A63.30,63.30 0 0 0 382.62,301.92Z" fill="#1a9098" />
<path d="M369.47,291.01A69.00,69.00 0 0 1 363.50,262.95L369.20,262.95A63.30,63.30 0 0 0 374.67,288.70Z" fill="#1b8ca4" />
<path d="M363.50,262.95A69.00,69.00 0 0 1 364.01,254.54L369.67,255.24A63.30,63.30 0 0 0 369.20,262.95Z" fill="#1a8aa6" />
<path d="M364.01,254.54A69.00,69.00 0 0 1 365.55,246.26L371.08,247.64A63.30,63.30 0 0 0 369.67,255.24Z" fill="#1b8ca4" />
<path d="M365.55,246.26A69.00,69.00 0 0 1 367.07,241.06L372.47,242.86A63.30,63.30 0 0 0 371.08,247.64Z" fill="#14917f" />
<path d="M367.07,241.06A69.00,69.00 0 0 1 367.74,239.12L373.09,241.09A63.30,63.30 0 0 0 372.47,242.86Z" fill="#b9b0a6" />
<path d="M367.74,239.12A69.00,69.00 0 0 1 368.52,237.10L373.81,239.24A63.30,63.30 0 0 0 373.09,241.09Z" fill="#c9c4d0" />
<path d="M376.98,232.55L371.98,229.81M412.73,202.82L410.95,197.40M419.34,201.03L418.15,195.46M450.37,202.23L451.98,196.76M464.15,208.13L467.00,203.19M469.71,211.74L473.06,207.13M493.92,247.64L499.45,246.26M493.64,279.33L499.15,280.81M491.98,284.60L497.34,286.55M489.87,289.70L495.04,292.11M486.76,295.55L491.64,298.49M481.69,302.79L486.12,306.37M476.47,308.48L480.43,312.58M466.04,316.63L469.06,321.47M462.22,318.84L464.89,323.87M429.19,326.16L428.89,331.86M411.89,322.80L410.04,328.19M382.62,301.92L378.13,305.43M374.67,288.70L369.47,291.01M369.20,262.95L363.50,262.95M369.67,255.24L364.01,254.54M371.08,247.64L365.55,246.26M372.47,242.86L367.07,241.06M373.09,241.09L367.74,239.12" fill="none" stroke="#fff" stroke-opacity="0.4" stroke-width="0.3"/>
<path d="M409.76,191.66A74.40,74.40 0 0 1 491.29,216.90L488.44,219.11A70.80,70.80 0 0 0 410.86,195.09Z" fill="#d9b92e" />
<path d="M492.31,218.25A74.40,74.40 0 1 1 361.99,238.77L365.40,239.92A70.80,70.80 0 1 0 489.41,220.39Z" fill="#1565c0" />
<text x="478.10" y="191.20" font-size="4.9" fill="#222" stroke="#222" stroke-width="0.1078" font-weight="normal" text-anchor="start" transform="rotate(0.03 478.1 191.2)" >TPS-d</text>
<text x="478.10" y="196.90" font-size="4.9" fill="#222" stroke="#222" stroke-width="0.1078" font-weight="normal" text-anchor="start" transform="rotate(0.03 478.1 196.9)" >TPS-e/f</text>
<text x="478.10" y="202.60" font-size="4.9" fill="#222" stroke="#222" stroke-width="0.1078" font-weight="normal" text-anchor="start" transform="rotate(0.03 478.1 202.6)" >TPS-h</text>
<text x="506.70" y="282.40" font-size="4.9" fill="#222" stroke="#222" stroke-width="0.1078" font-weight="normal" text-anchor="start" transform="rotate(0.03 506.7 282.4)" >TPS-a</text>
<text x="506.70" y="288.25" font-size="4.9" fill="#222" stroke="#222" stroke-width="0.1078" font-weight="normal" text-anchor="start" transform="rotate(0.03 506.7 288.2)" >TPS-b</text>
<text x="506.70" y="294.10" font-size="4.9" fill="#222" stroke="#222" stroke-width="0.1078" font-weight="normal" text-anchor="start" transform="rotate(0.03 506.7 294.1)" >TPS-g</text>
<rect x="373.0" y="342.9" width="6.2" height="6.2" fill="#4a6fa5" stroke="#777" stroke-opacity="0.55" stroke-width="0.35"/>
<text x="380.20" y="348.10" font-size="6.0" fill="#222" stroke="#222" stroke-width="0.132" font-weight="normal" text-anchor="start" transform="rotate(0.03 380.2 348.1)" >monoterpenoid</text>
<rect x="421.6" y="342.9" width="6.2" height="6.2" fill="#29b6e6" stroke="#777" stroke-opacity="0.55" stroke-width="0.35"/>
<text x="428.80" y="348.10" font-size="6.0" fill="#222" stroke="#222" stroke-width="0.132" font-weight="normal" text-anchor="start" transform="rotate(0.03 428.8 348.1)" >sesquiterpenoid</text>
<rect x="471.6" y="342.9" width="6.2" height="6.2" fill="#14a79d" stroke="#777" stroke-opacity="0.55" stroke-width="0.35"/>
<text x="478.80" y="348.10" font-size="6.0" fill="#222" stroke="#222" stroke-width="0.132" font-weight="normal" text-anchor="start" transform="rotate(0.03 478.8 348.1)" >diterpenoid</text>
<rect x="373.0" y="353.09999999999997" width="6.2" height="6.2" fill="#e8836b" stroke="#777" stroke-opacity="0.55" stroke-width="0.35"/>
<text x="380.20" y="358.30" font-size="6.0" fill="#222" stroke="#222" stroke-width="0.132" font-weight="normal" text-anchor="start" transform="rotate(0.03 380.2 358.3)" >triterpenoid</text>
<rect x="422.6" y="354.0" width="4.4" height="4.4" fill="#e79bc8" stroke="#a85a92" stroke-width="0.45"/>
<text x="429.20" y="358.30" font-size="6.0" fill="#222" stroke="#222" stroke-width="0.132" font-weight="normal" text-anchor="start" transform="rotate(0.03 429.2 358.3)" >more than one substrate</text>
</g>
</svg>
</body></html>
